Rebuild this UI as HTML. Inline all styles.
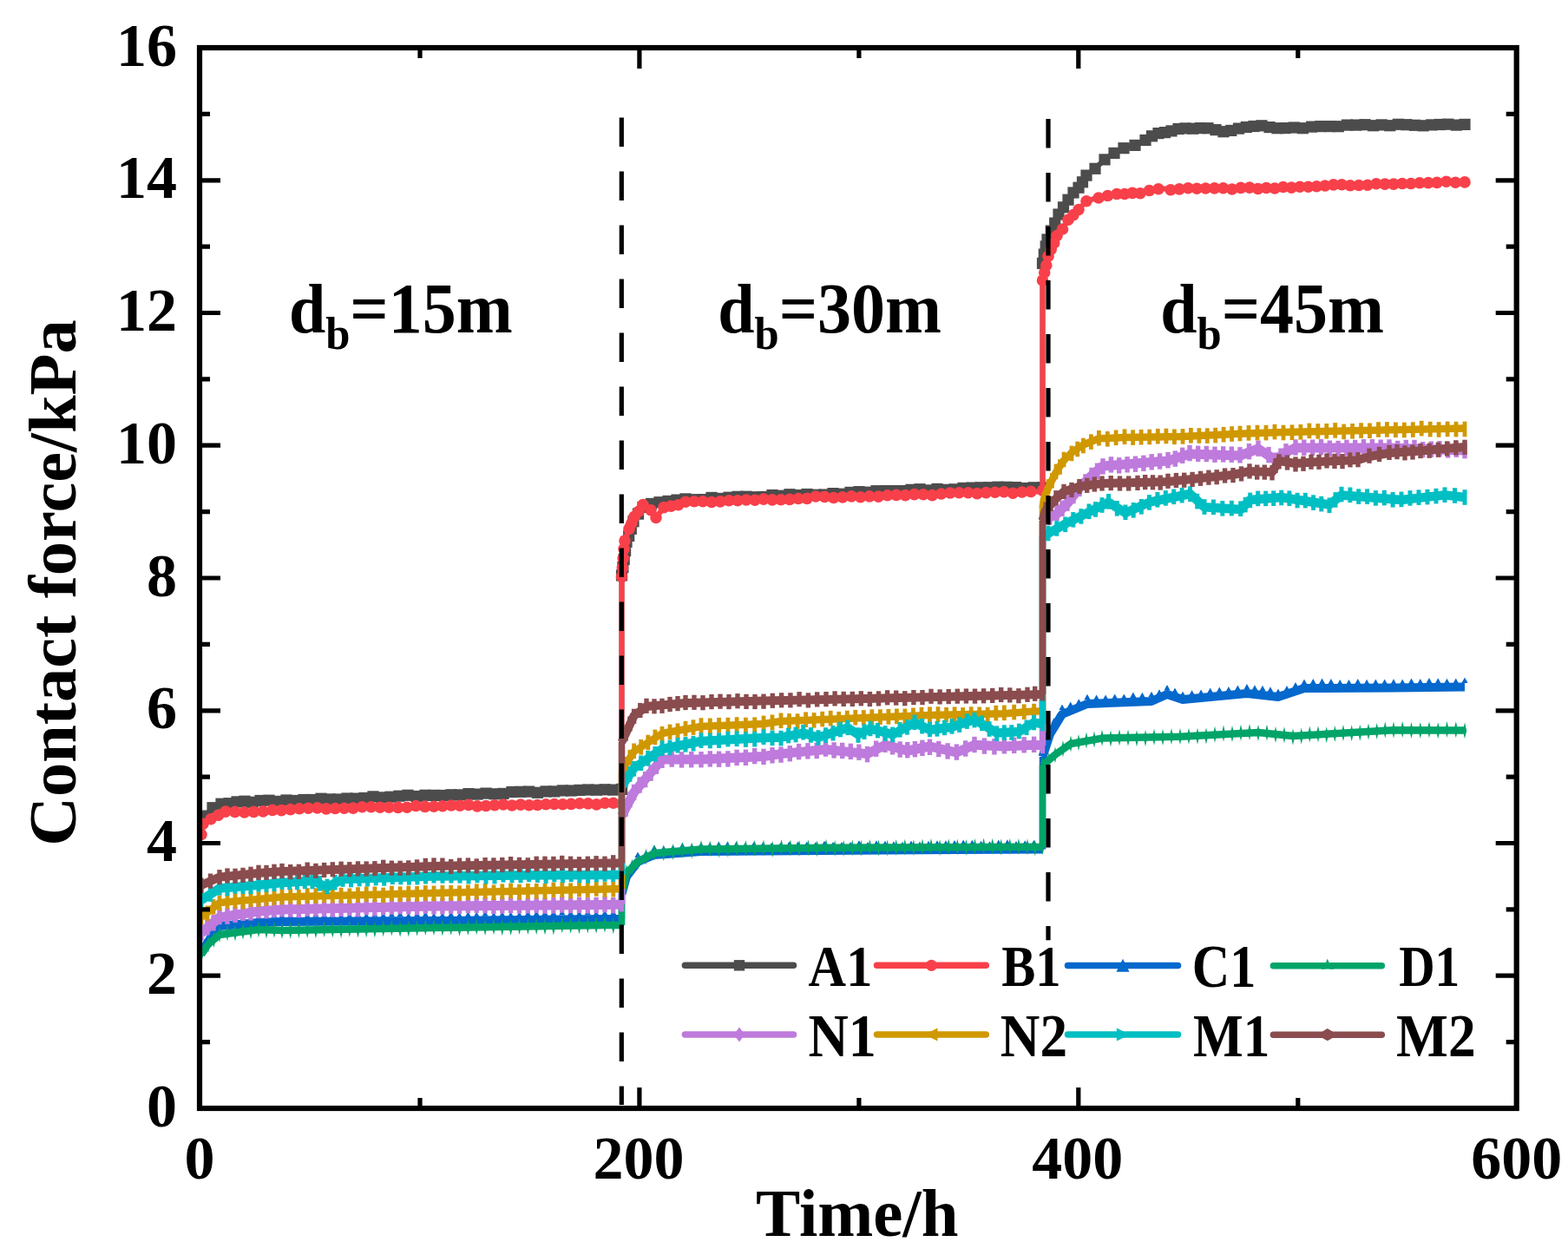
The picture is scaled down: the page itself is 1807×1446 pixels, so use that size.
<!DOCTYPE html><html><head><meta charset="utf-8"><style>html,body{margin:0;padding:0;background:#fff;overflow:hidden;width:1807px;height:1446px;}svg{display:block;}</style></head><body><svg width="1807" height="1446" viewBox="0 0 1807 1446">
<rect width="1807" height="1446" fill="#fff"/>
<defs><clipPath id="pc"><rect x="231.0" y="55.0" width="1516.7" height="1222.0"/></clipPath></defs>
<g clip-path="url(#pc)">
<g fill="#4C4C4C" stroke="none">
<polyline points="232.0,948.0 236.0,940.0 245.0,931.0 255.0,926.0 300.0,923.0 400.0,920.0 500.0,916.0 600.0,913.0 716.5,909.0" fill="none" stroke="#4C4C4C" stroke-width="6" stroke-linejoin="round"/>
<polyline points="716.5,662.0 722.0,625.0 730.0,600.0 741.0,584.0 760.0,578.0 800.0,575.0 900.0,571.0 1000.0,567.0 1100.0,563.0 1150.0,561.0 1201.5,562.0" fill="none" stroke="#4C4C4C" stroke-width="6" stroke-linejoin="round"/>
<line x1="716.5" y1="909.0" x2="716.5" y2="662.0" stroke="#4C4C4C" stroke-width="6"/>
<polyline points="1201.5,303.0 1207.0,275.0 1220.0,248.0 1231.0,230.0 1243.0,216.0 1252.0,203.0 1262.0,194.0 1273.0,184.0 1284.0,176.0 1295.0,171.0 1308.0,167.0 1320.0,161.0 1335.0,154.5 1350.0,150.0 1366.0,148.0 1392.0,148.0 1410.0,152.0 1445.0,145.0 1481.0,148.0 1573.0,144.0 1688.0,144.0" fill="none" stroke="#4C4C4C" stroke-width="6" stroke-linejoin="round"/>
<line x1="1201.5" y1="562.0" x2="1201.5" y2="303.0" stroke="#4C4C4C" stroke-width="6"/>
<rect x="225.4" y="940.9" width="13.2" height="13.2"/>
<rect x="229.4" y="933.5" width="13.2" height="13.2"/>
<rect x="238.4" y="924.1" width="13.2" height="13.2"/>
<rect x="248.4" y="919.6" width="13.2" height="13.2"/>
<rect x="257.4" y="919.1" width="13.2" height="13.2"/>
<rect x="266.4" y="917.3" width="13.2" height="13.2"/>
<rect x="275.4" y="916.6" width="13.2" height="13.2"/>
<rect x="284.4" y="917.7" width="13.2" height="13.2"/>
<rect x="293.4" y="915.9" width="13.2" height="13.2"/>
<rect x="303.4" y="915.6" width="13.2" height="13.2"/>
<rect x="313.4" y="916.8" width="13.2" height="13.2"/>
<rect x="323.4" y="915.4" width="13.2" height="13.2"/>
<rect x="333.4" y="915.9" width="13.2" height="13.2"/>
<rect x="343.4" y="914.9" width="13.2" height="13.2"/>
<rect x="353.4" y="914.9" width="13.2" height="13.2"/>
<rect x="363.4" y="913.6" width="13.2" height="13.2"/>
<rect x="373.4" y="914.3" width="13.2" height="13.2"/>
<rect x="383.4" y="914.4" width="13.2" height="13.2"/>
<rect x="393.4" y="913.4" width="13.2" height="13.2"/>
<rect x="403.4" y="913.5" width="13.2" height="13.2"/>
<rect x="413.4" y="912.9" width="13.2" height="13.2"/>
<rect x="423.4" y="911.3" width="13.2" height="13.2"/>
<rect x="433.4" y="912.3" width="13.2" height="13.2"/>
<rect x="443.4" y="911.6" width="13.2" height="13.2"/>
<rect x="453.4" y="910.6" width="13.2" height="13.2"/>
<rect x="463.4" y="909.7" width="13.2" height="13.2"/>
<rect x="473.4" y="910.9" width="13.2" height="13.2"/>
<rect x="483.4" y="909.7" width="13.2" height="13.2"/>
<rect x="493.4" y="909.8" width="13.2" height="13.2"/>
<rect x="503.4" y="909.9" width="13.2" height="13.2"/>
<rect x="513.4" y="909.2" width="13.2" height="13.2"/>
<rect x="523.4" y="909.3" width="13.2" height="13.2"/>
<rect x="533.4" y="908.0" width="13.2" height="13.2"/>
<rect x="543.4" y="908.5" width="13.2" height="13.2"/>
<rect x="553.4" y="907.5" width="13.2" height="13.2"/>
<rect x="563.4" y="908.2" width="13.2" height="13.2"/>
<rect x="573.4" y="907.8" width="13.2" height="13.2"/>
<rect x="583.4" y="905.9" width="13.2" height="13.2"/>
<rect x="593.4" y="905.7" width="13.2" height="13.2"/>
<rect x="603.1" y="905.5" width="13.2" height="13.2"/>
<rect x="612.8" y="906.7" width="13.2" height="13.2"/>
<rect x="622.5" y="905.3" width="13.2" height="13.2"/>
<rect x="632.2" y="905.3" width="13.2" height="13.2"/>
<rect x="641.9" y="904.3" width="13.2" height="13.2"/>
<rect x="651.6" y="904.4" width="13.2" height="13.2"/>
<rect x="661.4" y="903.8" width="13.2" height="13.2"/>
<rect x="671.1" y="903.4" width="13.2" height="13.2"/>
<rect x="680.8" y="903.6" width="13.2" height="13.2"/>
<rect x="690.5" y="903.2" width="13.2" height="13.2"/>
<rect x="700.2" y="903.5" width="13.2" height="13.2"/>
<rect x="709.9" y="902.8" width="13.2" height="13.2"/>
<rect x="709.9" y="656.3" width="13.2" height="13.2"/>
<rect x="711.3" y="646.9" width="13.2" height="13.2"/>
<rect x="712.6" y="637.9" width="13.2" height="13.2"/>
<rect x="714.0" y="628.0" width="13.2" height="13.2"/>
<rect x="715.4" y="617.7" width="13.2" height="13.2"/>
<rect x="718.1" y="610.8" width="13.2" height="13.2"/>
<rect x="720.7" y="602.7" width="13.2" height="13.2"/>
<rect x="723.4" y="594.2" width="13.2" height="13.2"/>
<rect x="728.9" y="585.5" width="13.2" height="13.2"/>
<rect x="734.4" y="577.8" width="13.2" height="13.2"/>
<rect x="743.9" y="573.8" width="13.2" height="13.2"/>
<rect x="753.4" y="572.1" width="13.2" height="13.2"/>
<rect x="763.4" y="570.8" width="13.2" height="13.2"/>
<rect x="773.4" y="569.5" width="13.2" height="13.2"/>
<rect x="783.4" y="568.3" width="13.2" height="13.2"/>
<rect x="793.4" y="569.1" width="13.2" height="13.2"/>
<rect x="803.4" y="569.0" width="13.2" height="13.2"/>
<rect x="813.4" y="566.8" width="13.2" height="13.2"/>
<rect x="823.4" y="567.8" width="13.2" height="13.2"/>
<rect x="833.4" y="566.6" width="13.2" height="13.2"/>
<rect x="843.4" y="565.7" width="13.2" height="13.2"/>
<rect x="853.4" y="565.6" width="13.2" height="13.2"/>
<rect x="863.4" y="566.1" width="13.2" height="13.2"/>
<rect x="873.4" y="565.9" width="13.2" height="13.2"/>
<rect x="883.4" y="563.9" width="13.2" height="13.2"/>
<rect x="893.4" y="564.6" width="13.2" height="13.2"/>
<rect x="903.4" y="563.1" width="13.2" height="13.2"/>
<rect x="913.4" y="564.0" width="13.2" height="13.2"/>
<rect x="923.4" y="562.9" width="13.2" height="13.2"/>
<rect x="933.4" y="563.6" width="13.2" height="13.2"/>
<rect x="943.4" y="563.4" width="13.2" height="13.2"/>
<rect x="953.4" y="562.0" width="13.2" height="13.2"/>
<rect x="963.4" y="562.6" width="13.2" height="13.2"/>
<rect x="973.4" y="560.8" width="13.2" height="13.2"/>
<rect x="983.4" y="560.0" width="13.2" height="13.2"/>
<rect x="993.4" y="560.6" width="13.2" height="13.2"/>
<rect x="1003.4" y="559.1" width="13.2" height="13.2"/>
<rect x="1013.4" y="559.0" width="13.2" height="13.2"/>
<rect x="1023.4" y="559.0" width="13.2" height="13.2"/>
<rect x="1033.4" y="559.0" width="13.2" height="13.2"/>
<rect x="1043.4" y="557.7" width="13.2" height="13.2"/>
<rect x="1053.4" y="557.1" width="13.2" height="13.2"/>
<rect x="1063.4" y="558.3" width="13.2" height="13.2"/>
<rect x="1073.4" y="556.8" width="13.2" height="13.2"/>
<rect x="1083.4" y="557.7" width="13.2" height="13.2"/>
<rect x="1093.4" y="557.2" width="13.2" height="13.2"/>
<rect x="1103.4" y="555.8" width="13.2" height="13.2"/>
<rect x="1113.4" y="555.5" width="13.2" height="13.2"/>
<rect x="1123.4" y="555.2" width="13.2" height="13.2"/>
<rect x="1133.4" y="555.1" width="13.2" height="13.2"/>
<rect x="1143.4" y="554.6" width="13.2" height="13.2"/>
<rect x="1153.7" y="554.7" width="13.2" height="13.2"/>
<rect x="1164.0" y="555.0" width="13.2" height="13.2"/>
<rect x="1174.3" y="555.9" width="13.2" height="13.2"/>
<rect x="1184.6" y="555.2" width="13.2" height="13.2"/>
<rect x="1194.9" y="555.3" width="13.2" height="13.2"/>
<rect x="1194.9" y="296.8" width="13.2" height="13.2"/>
<rect x="1196.7" y="286.5" width="13.2" height="13.2"/>
<rect x="1198.6" y="277.3" width="13.2" height="13.2"/>
<rect x="1200.4" y="269.4" width="13.2" height="13.2"/>
<rect x="1204.7" y="259.4" width="13.2" height="13.2"/>
<rect x="1209.1" y="250.5" width="13.2" height="13.2"/>
<rect x="1213.4" y="240.4" width="13.2" height="13.2"/>
<rect x="1218.9" y="232.2" width="13.2" height="13.2"/>
<rect x="1224.4" y="223.6" width="13.2" height="13.2"/>
<rect x="1230.4" y="215.4" width="13.2" height="13.2"/>
<rect x="1236.4" y="209.6" width="13.2" height="13.2"/>
<rect x="1240.9" y="203.2" width="13.2" height="13.2"/>
<rect x="1245.4" y="195.5" width="13.2" height="13.2"/>
<rect x="1255.4" y="187.7" width="13.2" height="13.2"/>
<rect x="1266.4" y="177.3" width="13.2" height="13.2"/>
<rect x="1277.4" y="169.8" width="13.2" height="13.2"/>
<rect x="1288.4" y="164.1" width="13.2" height="13.2"/>
<rect x="1301.4" y="160.8" width="13.2" height="13.2"/>
<rect x="1313.4" y="154.9" width="13.2" height="13.2"/>
<rect x="1320.9" y="150.2" width="13.2" height="13.2"/>
<rect x="1328.4" y="147.0" width="13.2" height="13.2"/>
<rect x="1335.9" y="146.0" width="13.2" height="13.2"/>
<rect x="1343.4" y="144.3" width="13.2" height="13.2"/>
<rect x="1351.4" y="141.9" width="13.2" height="13.2"/>
<rect x="1359.4" y="141.3" width="13.2" height="13.2"/>
<rect x="1368.1" y="141.6" width="13.2" height="13.2"/>
<rect x="1376.7" y="141.0" width="13.2" height="13.2"/>
<rect x="1385.4" y="141.1" width="13.2" height="13.2"/>
<rect x="1394.4" y="143.0" width="13.2" height="13.2"/>
<rect x="1403.4" y="145.1" width="13.2" height="13.2"/>
<rect x="1412.2" y="143.8" width="13.2" height="13.2"/>
<rect x="1420.9" y="141.5" width="13.2" height="13.2"/>
<rect x="1429.7" y="139.9" width="13.2" height="13.2"/>
<rect x="1438.4" y="138.9" width="13.2" height="13.2"/>
<rect x="1447.4" y="138.2" width="13.2" height="13.2"/>
<rect x="1456.4" y="140.0" width="13.2" height="13.2"/>
<rect x="1465.4" y="141.1" width="13.2" height="13.2"/>
<rect x="1474.4" y="141.0" width="13.2" height="13.2"/>
<rect x="1484.6" y="140.4" width="13.2" height="13.2"/>
<rect x="1494.8" y="141.1" width="13.2" height="13.2"/>
<rect x="1505.1" y="139.5" width="13.2" height="13.2"/>
<rect x="1515.3" y="139.0" width="13.2" height="13.2"/>
<rect x="1525.5" y="139.0" width="13.2" height="13.2"/>
<rect x="1535.7" y="139.1" width="13.2" height="13.2"/>
<rect x="1546.0" y="137.5" width="13.2" height="13.2"/>
<rect x="1556.2" y="137.5" width="13.2" height="13.2"/>
<rect x="1566.4" y="137.1" width="13.2" height="13.2"/>
<rect x="1576.0" y="138.1" width="13.2" height="13.2"/>
<rect x="1585.6" y="137.3" width="13.2" height="13.2"/>
<rect x="1595.2" y="138.1" width="13.2" height="13.2"/>
<rect x="1604.7" y="136.7" width="13.2" height="13.2"/>
<rect x="1614.3" y="137.1" width="13.2" height="13.2"/>
<rect x="1623.9" y="137.7" width="13.2" height="13.2"/>
<rect x="1633.5" y="138.2" width="13.2" height="13.2"/>
<rect x="1643.1" y="137.3" width="13.2" height="13.2"/>
<rect x="1652.7" y="136.9" width="13.2" height="13.2"/>
<rect x="1662.2" y="136.6" width="13.2" height="13.2"/>
<rect x="1671.8" y="137.5" width="13.2" height="13.2"/>
<rect x="1681.4" y="136.8" width="13.2" height="13.2"/>
</g>
<g fill="#F8404A" stroke="none">
<polyline points="232.0,962.0 234.0,950.0 243.0,944.0 260.0,936.0 314.0,934.0 376.0,931.0 500.0,929.0 600.0,927.0 716.5,926.0" fill="none" stroke="#F8404A" stroke-width="6" stroke-linejoin="round"/>
<polyline points="716.5,665.0 720.0,622.0 725.0,610.0 731.0,596.0 741.0,582.0 750.0,588.0 756.0,596.0 765.0,585.0 790.0,579.0 880.0,576.0 940.0,573.0 1033.0,571.0 1126.0,568.0 1188.0,567.0 1201.5,566.0" fill="none" stroke="#F8404A" stroke-width="6" stroke-linejoin="round"/>
<line x1="716.5" y1="926.0" x2="716.5" y2="665.0" stroke="#F8404A" stroke-width="6"/>
<polyline points="1201.5,324.0 1208.0,296.0 1218.0,272.0 1231.0,254.0 1243.0,241.0 1252.0,232.0 1266.0,227.0 1287.0,224.0 1314.0,223.0 1335.0,217.0 1349.0,218.0 1440.0,217.0 1556.0,213.0 1656.0,210.0 1688.0,209.0" fill="none" stroke="#F8404A" stroke-width="6" stroke-linejoin="round"/>
<line x1="1201.5" y1="566.0" x2="1201.5" y2="324.0" stroke="#F8404A" stroke-width="6"/>
<circle cx="232.0" cy="961.5" r="6.8"/>
<circle cx="234.0" cy="949.2" r="6.8"/>
<circle cx="243.0" cy="943.8" r="6.8"/>
<circle cx="251.5" cy="939.3" r="6.8"/>
<circle cx="260.0" cy="935.1" r="6.8"/>
<circle cx="270.8" cy="935.4" r="6.8"/>
<circle cx="281.6" cy="936.0" r="6.8"/>
<circle cx="292.4" cy="935.4" r="6.8"/>
<circle cx="303.2" cy="934.9" r="6.8"/>
<circle cx="314.0" cy="933.4" r="6.8"/>
<circle cx="324.3" cy="933.6" r="6.8"/>
<circle cx="334.7" cy="932.6" r="6.8"/>
<circle cx="345.0" cy="931.8" r="6.8"/>
<circle cx="355.3" cy="931.2" r="6.8"/>
<circle cx="365.7" cy="930.9" r="6.8"/>
<circle cx="376.0" cy="931.9" r="6.8"/>
<circle cx="386.3" cy="931.5" r="6.8"/>
<circle cx="396.7" cy="931.3" r="6.8"/>
<circle cx="407.0" cy="931.1" r="6.8"/>
<circle cx="417.3" cy="929.7" r="6.8"/>
<circle cx="427.7" cy="929.8" r="6.8"/>
<circle cx="438.0" cy="930.3" r="6.8"/>
<circle cx="448.3" cy="930.3" r="6.8"/>
<circle cx="458.7" cy="930.4" r="6.8"/>
<circle cx="469.0" cy="930.3" r="6.8"/>
<circle cx="479.3" cy="928.5" r="6.8"/>
<circle cx="489.7" cy="929.4" r="6.8"/>
<circle cx="500.0" cy="929.3" r="6.8"/>
<circle cx="510.0" cy="928.8" r="6.8"/>
<circle cx="520.0" cy="928.0" r="6.8"/>
<circle cx="530.0" cy="928.3" r="6.8"/>
<circle cx="540.0" cy="927.4" r="6.8"/>
<circle cx="550.0" cy="928.9" r="6.8"/>
<circle cx="560.0" cy="928.5" r="6.8"/>
<circle cx="570.0" cy="927.7" r="6.8"/>
<circle cx="580.0" cy="927.0" r="6.8"/>
<circle cx="590.0" cy="928.0" r="6.8"/>
<circle cx="600.0" cy="927.1" r="6.8"/>
<circle cx="609.7" cy="927.7" r="6.8"/>
<circle cx="619.4" cy="927.5" r="6.8"/>
<circle cx="629.1" cy="926.8" r="6.8"/>
<circle cx="638.8" cy="926.5" r="6.8"/>
<circle cx="648.5" cy="926.8" r="6.8"/>
<circle cx="658.2" cy="926.4" r="6.8"/>
<circle cx="668.0" cy="925.7" r="6.8"/>
<circle cx="677.7" cy="925.9" r="6.8"/>
<circle cx="687.4" cy="926.9" r="6.8"/>
<circle cx="697.1" cy="925.3" r="6.8"/>
<circle cx="706.8" cy="925.2" r="6.8"/>
<circle cx="716.5" cy="926.3" r="6.8"/>
<circle cx="716.5" cy="664.6" r="6.8"/>
<circle cx="717.4" cy="654.3" r="6.8"/>
<circle cx="718.2" cy="643.4" r="6.8"/>
<circle cx="719.1" cy="632.4" r="6.8"/>
<circle cx="720.0" cy="623.0" r="6.8"/>
<circle cx="725.0" cy="609.4" r="6.8"/>
<circle cx="728.0" cy="602.8" r="6.8"/>
<circle cx="731.0" cy="595.4" r="6.8"/>
<circle cx="736.0" cy="589.3" r="6.8"/>
<circle cx="741.0" cy="581.6" r="6.8"/>
<circle cx="750.0" cy="587.7" r="6.8"/>
<circle cx="756.0" cy="596.5" r="6.8"/>
<circle cx="765.0" cy="584.6" r="6.8"/>
<circle cx="773.3" cy="583.1" r="6.8"/>
<circle cx="781.7" cy="581.8" r="6.8"/>
<circle cx="790.0" cy="578.2" r="6.8"/>
<circle cx="800.0" cy="577.8" r="6.8"/>
<circle cx="810.0" cy="577.8" r="6.8"/>
<circle cx="820.0" cy="578.5" r="6.8"/>
<circle cx="830.0" cy="577.9" r="6.8"/>
<circle cx="840.0" cy="576.8" r="6.8"/>
<circle cx="850.0" cy="576.7" r="6.8"/>
<circle cx="860.0" cy="576.0" r="6.8"/>
<circle cx="870.0" cy="576.3" r="6.8"/>
<circle cx="880.0" cy="575.1" r="6.8"/>
<circle cx="890.0" cy="575.9" r="6.8"/>
<circle cx="900.0" cy="575.8" r="6.8"/>
<circle cx="910.0" cy="575.4" r="6.8"/>
<circle cx="920.0" cy="574.5" r="6.8"/>
<circle cx="930.0" cy="574.4" r="6.8"/>
<circle cx="940.0" cy="572.0" r="6.8"/>
<circle cx="950.3" cy="572.4" r="6.8"/>
<circle cx="960.7" cy="573.5" r="6.8"/>
<circle cx="971.0" cy="572.9" r="6.8"/>
<circle cx="981.3" cy="571.9" r="6.8"/>
<circle cx="991.7" cy="572.8" r="6.8"/>
<circle cx="1002.0" cy="571.9" r="6.8"/>
<circle cx="1012.3" cy="572.1" r="6.8"/>
<circle cx="1022.7" cy="570.8" r="6.8"/>
<circle cx="1033.0" cy="570.4" r="6.8"/>
<circle cx="1043.3" cy="570.6" r="6.8"/>
<circle cx="1053.7" cy="569.6" r="6.8"/>
<circle cx="1064.0" cy="569.8" r="6.8"/>
<circle cx="1074.3" cy="570.6" r="6.8"/>
<circle cx="1084.7" cy="569.0" r="6.8"/>
<circle cx="1095.0" cy="568.0" r="6.8"/>
<circle cx="1105.3" cy="567.8" r="6.8"/>
<circle cx="1115.7" cy="567.7" r="6.8"/>
<circle cx="1126.0" cy="568.6" r="6.8"/>
<circle cx="1136.3" cy="567.6" r="6.8"/>
<circle cx="1146.7" cy="567.2" r="6.8"/>
<circle cx="1157.0" cy="566.7" r="6.8"/>
<circle cx="1167.3" cy="568.3" r="6.8"/>
<circle cx="1177.7" cy="567.0" r="6.8"/>
<circle cx="1188.0" cy="566.4" r="6.8"/>
<circle cx="1201.5" cy="565.1" r="6.8"/>
<circle cx="1201.5" cy="323.1" r="6.8"/>
<circle cx="1203.7" cy="314.0" r="6.8"/>
<circle cx="1205.8" cy="305.7" r="6.8"/>
<circle cx="1208.0" cy="295.3" r="6.8"/>
<circle cx="1211.3" cy="287.1" r="6.8"/>
<circle cx="1214.7" cy="280.0" r="6.8"/>
<circle cx="1218.0" cy="271.5" r="6.8"/>
<circle cx="1224.5" cy="264.0" r="6.8"/>
<circle cx="1231.0" cy="253.2" r="6.8"/>
<circle cx="1237.0" cy="247.6" r="6.8"/>
<circle cx="1243.0" cy="241.5" r="6.8"/>
<circle cx="1252.0" cy="231.8" r="6.8"/>
<circle cx="1266.0" cy="228.0" r="6.8"/>
<circle cx="1276.5" cy="225.5" r="6.8"/>
<circle cx="1287.0" cy="223.5" r="6.8"/>
<circle cx="1296.0" cy="223.5" r="6.8"/>
<circle cx="1305.0" cy="222.4" r="6.8"/>
<circle cx="1314.0" cy="222.8" r="6.8"/>
<circle cx="1324.5" cy="219.5" r="6.8"/>
<circle cx="1335.0" cy="217.8" r="6.8"/>
<circle cx="1349.0" cy="218.7" r="6.8"/>
<circle cx="1359.1" cy="217.9" r="6.8"/>
<circle cx="1369.2" cy="216.8" r="6.8"/>
<circle cx="1379.3" cy="217.2" r="6.8"/>
<circle cx="1389.4" cy="217.0" r="6.8"/>
<circle cx="1399.6" cy="216.9" r="6.8"/>
<circle cx="1409.7" cy="216.8" r="6.8"/>
<circle cx="1419.8" cy="218.0" r="6.8"/>
<circle cx="1429.9" cy="216.4" r="6.8"/>
<circle cx="1440.0" cy="216.1" r="6.8"/>
<circle cx="1449.7" cy="217.5" r="6.8"/>
<circle cx="1459.3" cy="216.5" r="6.8"/>
<circle cx="1469.0" cy="217.0" r="6.8"/>
<circle cx="1478.7" cy="215.5" r="6.8"/>
<circle cx="1488.3" cy="216.1" r="6.8"/>
<circle cx="1498.0" cy="215.3" r="6.8"/>
<circle cx="1507.7" cy="215.2" r="6.8"/>
<circle cx="1517.3" cy="214.8" r="6.8"/>
<circle cx="1527.0" cy="214.0" r="6.8"/>
<circle cx="1536.7" cy="212.9" r="6.8"/>
<circle cx="1546.3" cy="212.8" r="6.8"/>
<circle cx="1556.0" cy="213.7" r="6.8"/>
<circle cx="1566.0" cy="213.5" r="6.8"/>
<circle cx="1576.0" cy="213.2" r="6.8"/>
<circle cx="1586.0" cy="211.8" r="6.8"/>
<circle cx="1596.0" cy="212.1" r="6.8"/>
<circle cx="1606.0" cy="212.1" r="6.8"/>
<circle cx="1616.0" cy="211.5" r="6.8"/>
<circle cx="1626.0" cy="211.5" r="6.8"/>
<circle cx="1636.0" cy="210.7" r="6.8"/>
<circle cx="1646.0" cy="210.6" r="6.8"/>
<circle cx="1656.0" cy="210.4" r="6.8"/>
<circle cx="1666.7" cy="209.2" r="6.8"/>
<circle cx="1677.3" cy="210.2" r="6.8"/>
<circle cx="1688.0" cy="209.9" r="6.8"/>
</g>
<g fill="#0568CC" stroke="none">
<polyline points="232.0,1098.0 240.0,1085.0 253.0,1067.0 298.0,1063.0 325.0,1062.0 500.0,1061.0 697.0,1059.0 716.5,1059.0" fill="none" stroke="#0568CC" stroke-width="10" stroke-linejoin="round"/>
<polyline points="716.5,1030.0 722.0,1010.0 735.0,993.0 754.0,985.0 808.0,981.0 950.0,980.0 1100.0,979.0 1201.5,978.5" fill="none" stroke="#0568CC" stroke-width="10" stroke-linejoin="round"/>
<line x1="716.5" y1="1059.0" x2="716.5" y2="1030.0" stroke="#0568CC" stroke-width="7.5"/>
<polyline points="1201.5,872.0 1210.0,846.0 1224.0,823.0 1253.0,811.0 1327.0,808.0 1345.0,800.0 1363.0,806.0 1437.0,799.0 1473.0,803.0 1503.0,793.0 1606.0,792.5 1688.0,791.5" fill="none" stroke="#0568CC" stroke-width="10" stroke-linejoin="round"/>
<line x1="1201.5" y1="978.5" x2="1201.5" y2="872.0" stroke="#0568CC" stroke-width="7.5"/>
<polygon points="232.0,1087.7 235.6,1094.2 228.4,1094.2"/>
<polygon points="236.0,1081.5 239.6,1088.0 232.4,1088.0"/>
<polygon points="240.0,1075.1 243.6,1081.6 236.4,1081.6"/>
<polygon points="246.5,1066.4 250.1,1072.9 242.9,1072.9"/>
<polygon points="253.0,1057.0 256.6,1063.5 249.4,1063.5"/>
<polygon points="262.0,1056.5 265.6,1063.0 258.4,1063.0"/>
<polygon points="271.0,1054.0 274.6,1060.5 267.4,1060.5"/>
<polygon points="280.0,1054.0 283.6,1060.5 276.4,1060.5"/>
<polygon points="289.0,1054.2 292.6,1060.7 285.4,1060.7"/>
<polygon points="298.0,1052.8 301.6,1059.3 294.4,1059.3"/>
<polygon points="307.0,1053.0 310.6,1059.5 303.4,1059.5"/>
<polygon points="316.0,1051.1 319.6,1057.6 312.4,1057.6"/>
<polygon points="325.0,1051.4 328.6,1057.9 321.4,1057.9"/>
<polygon points="334.7,1050.9 338.3,1057.4 331.1,1057.4"/>
<polygon points="344.4,1051.5 348.0,1058.0 340.8,1058.0"/>
<polygon points="354.2,1051.5 357.8,1058.0 350.6,1058.0"/>
<polygon points="363.9,1050.3 367.5,1056.8 360.3,1056.8"/>
<polygon points="373.6,1050.7 377.2,1057.2 370.0,1057.2"/>
<polygon points="383.3,1050.7 386.9,1057.2 379.7,1057.2"/>
<polygon points="393.1,1051.9 396.7,1058.4 389.5,1058.4"/>
<polygon points="402.8,1051.6 406.4,1058.1 399.2,1058.1"/>
<polygon points="412.5,1050.3 416.1,1056.8 408.9,1056.8"/>
<polygon points="422.2,1051.5 425.8,1058.0 418.6,1058.0"/>
<polygon points="431.9,1050.2 435.5,1056.7 428.3,1056.7"/>
<polygon points="441.7,1051.1 445.3,1057.6 438.1,1057.6"/>
<polygon points="451.4,1050.0 455.0,1056.5 447.8,1056.5"/>
<polygon points="461.1,1049.7 464.7,1056.2 457.5,1056.2"/>
<polygon points="470.8,1051.4 474.4,1057.9 467.2,1057.9"/>
<polygon points="480.6,1050.0 484.2,1056.5 477.0,1056.5"/>
<polygon points="490.3,1050.0 493.9,1056.5 486.7,1056.5"/>
<polygon points="500.0,1051.5 503.6,1058.0 496.4,1058.0"/>
<polygon points="509.9,1051.1 513.5,1057.6 506.2,1057.6"/>
<polygon points="519.7,1049.9 523.3,1056.4 516.1,1056.4"/>
<polygon points="529.5,1051.1 533.1,1057.6 525.9,1057.6"/>
<polygon points="539.4,1050.2 543.0,1056.7 535.8,1056.7"/>
<polygon points="549.2,1050.4 552.9,1056.9 545.6,1056.9"/>
<polygon points="559.1,1049.3 562.7,1055.8 555.5,1055.8"/>
<polygon points="569.0,1050.7 572.6,1057.2 565.4,1057.2"/>
<polygon points="578.8,1050.1 582.4,1056.6 575.2,1056.6"/>
<polygon points="588.6,1050.5 592.2,1057.0 585.0,1057.0"/>
<polygon points="598.5,1050.3 602.1,1056.8 594.9,1056.8"/>
<polygon points="608.4,1049.0 612.0,1055.5 604.8,1055.5"/>
<polygon points="618.2,1049.0 621.8,1055.5 614.6,1055.5"/>
<polygon points="628.0,1048.5 631.6,1055.0 624.4,1055.0"/>
<polygon points="637.9,1048.4 641.5,1054.9 634.3,1054.9"/>
<polygon points="647.8,1048.1 651.4,1054.6 644.1,1054.6"/>
<polygon points="657.6,1048.5 661.2,1055.0 654.0,1055.0"/>
<polygon points="667.5,1049.0 671.1,1055.5 663.9,1055.5"/>
<polygon points="677.3,1047.7 680.9,1054.2 673.7,1054.2"/>
<polygon points="687.1,1049.0 690.8,1055.5 683.5,1055.5"/>
<polygon points="697.0,1048.2 700.6,1054.7 693.4,1054.7"/>
<polygon points="706.8,1048.1 710.4,1054.6 703.1,1054.6"/>
<polygon points="716.5,1049.1 720.1,1055.6 712.9,1055.6"/>
<polygon points="716.5,1019.5 720.1,1026.0 712.9,1026.0"/>
<polygon points="719.2,1009.1 722.9,1015.6 715.6,1015.6"/>
<polygon points="722.0,999.5 725.6,1006.0 718.4,1006.0"/>
<polygon points="728.5,991.4 732.1,997.9 724.9,997.9"/>
<polygon points="735.0,981.6 738.6,988.1 731.4,988.1"/>
<polygon points="744.5,979.5 748.1,986.0 740.9,986.0"/>
<polygon points="754.0,973.5 757.6,980.0 750.4,980.0"/>
<polygon points="764.8,974.2 768.4,980.7 761.2,980.7"/>
<polygon points="775.6,973.6 779.2,980.1 772.0,980.1"/>
<polygon points="786.4,971.1 790.0,977.6 782.8,977.6"/>
<polygon points="797.2,971.9 800.8,978.4 793.6,978.4"/>
<polygon points="808.0,970.2 811.6,976.7 804.4,976.7"/>
<polygon points="818.1,970.6 821.7,977.1 814.5,977.1"/>
<polygon points="828.3,969.4 831.9,975.9 824.7,975.9"/>
<polygon points="838.4,969.4 842.0,975.9 834.8,975.9"/>
<polygon points="848.6,969.6 852.2,976.1 845.0,976.1"/>
<polygon points="858.7,971.1 862.3,977.6 855.1,977.6"/>
<polygon points="868.9,969.5 872.5,976.0 865.3,976.0"/>
<polygon points="879.0,970.5 882.6,977.0 875.4,977.0"/>
<polygon points="889.1,970.8 892.7,977.3 885.5,977.3"/>
<polygon points="899.3,970.7 902.9,977.2 895.7,977.2"/>
<polygon points="909.4,969.5 913.0,976.0 905.8,976.0"/>
<polygon points="919.6,969.4 923.2,975.9 916.0,975.9"/>
<polygon points="929.7,969.7 933.3,976.2 926.1,976.2"/>
<polygon points="939.9,970.1 943.5,976.6 936.3,976.6"/>
<polygon points="950.0,968.7 953.6,975.2 946.4,975.2"/>
<polygon points="960.0,969.9 963.6,976.4 956.4,976.4"/>
<polygon points="970.0,970.0 973.6,976.5 966.4,976.5"/>
<polygon points="980.0,970.0 983.6,976.5 976.4,976.5"/>
<polygon points="990.0,968.3 993.6,974.8 986.4,974.8"/>
<polygon points="1000.0,970.1 1003.6,976.6 996.4,976.6"/>
<polygon points="1010.0,968.3 1013.6,974.8 1006.4,974.8"/>
<polygon points="1020.0,968.7 1023.6,975.2 1016.4,975.2"/>
<polygon points="1030.0,969.2 1033.6,975.7 1026.4,975.7"/>
<polygon points="1040.0,969.7 1043.6,976.2 1036.4,976.2"/>
<polygon points="1050.0,968.5 1053.6,975.0 1046.4,975.0"/>
<polygon points="1060.0,969.6 1063.6,976.1 1056.4,976.1"/>
<polygon points="1070.0,968.8 1073.6,975.3 1066.4,975.3"/>
<polygon points="1080.0,968.3 1083.6,974.8 1076.4,974.8"/>
<polygon points="1090.0,968.2 1093.6,974.7 1086.4,974.7"/>
<polygon points="1100.0,967.9 1103.6,974.4 1096.4,974.4"/>
<polygon points="1110.2,967.6 1113.8,974.1 1106.6,974.1"/>
<polygon points="1120.3,967.7 1123.9,974.2 1116.7,974.2"/>
<polygon points="1130.5,968.7 1134.0,975.2 1126.9,975.2"/>
<polygon points="1140.6,969.3 1144.2,975.8 1137.0,975.8"/>
<polygon points="1150.8,967.6 1154.3,974.1 1147.2,974.1"/>
<polygon points="1160.9,967.3 1164.5,973.8 1157.3,973.8"/>
<polygon points="1171.0,969.1 1174.6,975.6 1167.5,975.6"/>
<polygon points="1181.2,968.2 1184.8,974.7 1177.6,974.7"/>
<polygon points="1191.3,967.9 1194.9,974.4 1187.8,974.4"/>
<polygon points="1201.5,967.5 1205.1,974.0 1197.9,974.0"/>
<polygon points="1201.5,861.7 1205.1,868.2 1197.9,868.2"/>
<polygon points="1204.3,853.5 1207.9,860.0 1200.7,860.0"/>
<polygon points="1207.2,844.1 1210.8,850.6 1203.6,850.6"/>
<polygon points="1210.0,835.3 1213.6,841.8 1206.4,841.8"/>
<polygon points="1214.7,826.9 1218.3,833.4 1211.1,833.4"/>
<polygon points="1219.3,821.0 1222.9,827.5 1215.7,827.5"/>
<polygon points="1224.0,811.6 1227.6,818.1 1220.4,818.1"/>
<polygon points="1233.7,808.5 1237.3,815.0 1230.1,815.0"/>
<polygon points="1243.3,805.2 1246.9,811.7 1239.7,811.7"/>
<polygon points="1253.0,799.8 1256.6,806.3 1249.4,806.3"/>
<polygon points="1263.6,800.5 1267.2,807.0 1260.0,807.0"/>
<polygon points="1274.1,800.5 1277.7,807.0 1270.5,807.0"/>
<polygon points="1284.7,799.5 1288.3,806.0 1281.1,806.0"/>
<polygon points="1295.3,799.4 1298.9,805.9 1291.7,805.9"/>
<polygon points="1305.9,797.6 1309.5,804.1 1302.3,804.1"/>
<polygon points="1316.4,797.8 1320.0,804.3 1312.8,804.3"/>
<polygon points="1327.0,796.8 1330.6,803.3 1323.4,803.3"/>
<polygon points="1336.0,794.2 1339.6,800.7 1332.4,800.7"/>
<polygon points="1345.0,789.1 1348.6,795.6 1341.4,795.6"/>
<polygon points="1354.0,792.4 1357.6,798.9 1350.4,798.9"/>
<polygon points="1363.0,796.5 1366.6,803.0 1359.4,803.0"/>
<polygon points="1373.6,795.2 1377.2,801.7 1370.0,801.7"/>
<polygon points="1384.1,794.5 1387.7,801.0 1380.5,801.0"/>
<polygon points="1394.7,792.4 1398.3,798.9 1391.1,798.9"/>
<polygon points="1405.3,791.5 1408.9,798.0 1401.7,798.0"/>
<polygon points="1415.9,791.0 1419.5,797.5 1412.3,797.5"/>
<polygon points="1426.4,789.5 1430.0,796.0 1422.8,796.0"/>
<polygon points="1437.0,788.1 1440.6,794.6 1433.4,794.6"/>
<polygon points="1446.0,789.3 1449.6,795.8 1442.4,795.8"/>
<polygon points="1455.0,789.8 1458.6,796.3 1451.4,796.3"/>
<polygon points="1464.0,791.3 1467.6,797.8 1460.4,797.8"/>
<polygon points="1473.0,793.5 1476.6,800.0 1469.4,800.0"/>
<polygon points="1483.0,790.1 1486.6,796.6 1479.4,796.6"/>
<polygon points="1493.0,786.1 1496.6,792.6 1489.4,792.6"/>
<polygon points="1503.0,782.5 1506.6,789.0 1499.4,789.0"/>
<polygon points="1513.3,782.1 1516.9,788.6 1509.7,788.6"/>
<polygon points="1523.6,781.6 1527.2,788.1 1520.0,788.1"/>
<polygon points="1533.9,781.9 1537.5,788.4 1530.3,788.4"/>
<polygon points="1544.2,782.9 1547.8,789.4 1540.6,789.4"/>
<polygon points="1554.5,783.0 1558.1,789.5 1550.9,789.5"/>
<polygon points="1564.8,781.9 1568.4,788.4 1561.2,788.4"/>
<polygon points="1575.1,782.7 1578.7,789.2 1571.5,789.2"/>
<polygon points="1585.4,782.6 1589.0,789.1 1581.8,789.1"/>
<polygon points="1595.7,782.4 1599.3,788.9 1592.1,788.9"/>
<polygon points="1606.0,782.3 1609.6,788.8 1602.4,788.8"/>
<polygon points="1616.2,782.4 1619.8,788.9 1612.7,788.9"/>
<polygon points="1626.5,781.5 1630.1,788.0 1622.9,788.0"/>
<polygon points="1636.8,782.0 1640.3,788.5 1633.2,788.5"/>
<polygon points="1647.0,781.1 1650.6,787.6 1643.4,787.6"/>
<polygon points="1657.2,781.3 1660.8,787.8 1653.7,787.8"/>
<polygon points="1667.5,781.8 1671.1,788.3 1663.9,788.3"/>
<polygon points="1677.8,781.5 1681.3,788.0 1674.2,788.0"/>
<polygon points="1688.0,780.6 1691.6,787.1 1684.4,787.1"/>
</g>
<g fill="#00A469" stroke="none">
<polyline points="232.0,1100.0 240.0,1088.0 253.0,1077.0 298.0,1071.0 325.0,1072.0 500.0,1069.0 697.0,1066.0 716.5,1066.0" fill="none" stroke="#00A469" stroke-width="8.5" stroke-linejoin="round"/>
<polyline points="716.5,1030.0 722.0,1006.0 735.0,993.0 754.0,983.0 808.0,978.5 952.0,976.7 1184.0,975.8 1201.5,976.0" fill="none" stroke="#00A469" stroke-width="8.5" stroke-linejoin="round"/>
<line x1="716.5" y1="1066.0" x2="716.5" y2="1030.0" stroke="#00A469" stroke-width="7.5"/>
<polyline points="1201.5,882.0 1216.0,869.5 1234.0,857.0 1270.0,850.6 1360.0,848.8 1450.0,844.0 1490.0,848.0 1606.0,841.3 1688.0,841.5" fill="none" stroke="#00A469" stroke-width="8.5" stroke-linejoin="round"/>
<line x1="1201.5" y1="976.0" x2="1201.5" y2="882.0" stroke="#00A469" stroke-width="7.5"/>
<polygon points="232.0,1091.1 234.2,1100.6 232.0,1110.1 229.8,1100.6"/>
<polygon points="240.0,1079.1 242.2,1088.6 240.0,1098.1 237.8,1088.6"/>
<polygon points="246.5,1073.0 248.7,1082.5 246.5,1092.0 244.3,1082.5"/>
<polygon points="253.0,1067.0 255.2,1076.5 253.0,1086.0 250.8,1076.5"/>
<polygon points="262.0,1065.3 264.2,1074.8 262.0,1084.3 259.8,1074.8"/>
<polygon points="271.0,1065.4 273.2,1074.9 271.0,1084.4 268.8,1074.9"/>
<polygon points="280.0,1063.8 282.2,1073.3 280.0,1082.8 277.8,1073.3"/>
<polygon points="289.0,1063.2 291.2,1072.7 289.0,1082.2 286.8,1072.7"/>
<polygon points="298.0,1061.2 300.2,1070.7 298.0,1080.2 295.8,1070.7"/>
<polygon points="307.0,1062.4 309.2,1071.9 307.0,1081.4 304.8,1071.9"/>
<polygon points="316.0,1061.7 318.2,1071.2 316.0,1080.7 313.8,1071.2"/>
<polygon points="325.0,1063.1 327.2,1072.6 325.0,1082.1 322.8,1072.6"/>
<polygon points="334.7,1062.8 336.9,1072.3 334.7,1081.8 332.5,1072.3"/>
<polygon points="344.4,1062.0 346.6,1071.5 344.4,1081.0 342.2,1071.5"/>
<polygon points="354.2,1062.1 356.4,1071.6 354.2,1081.1 352.0,1071.6"/>
<polygon points="363.9,1062.2 366.1,1071.7 363.9,1081.2 361.7,1071.7"/>
<polygon points="373.6,1061.1 375.8,1070.6 373.6,1080.1 371.4,1070.6"/>
<polygon points="383.3,1061.6 385.5,1071.1 383.3,1080.6 381.1,1071.1"/>
<polygon points="393.1,1061.9 395.3,1071.4 393.1,1080.9 390.9,1071.4"/>
<polygon points="402.8,1060.7 405.0,1070.2 402.8,1079.7 400.6,1070.2"/>
<polygon points="412.5,1061.6 414.7,1071.1 412.5,1080.6 410.3,1071.1"/>
<polygon points="422.2,1061.2 424.4,1070.7 422.2,1080.2 420.0,1070.7"/>
<polygon points="431.9,1061.4 434.1,1070.9 431.9,1080.4 429.7,1070.9"/>
<polygon points="441.7,1060.2 443.9,1069.7 441.7,1079.2 439.5,1069.7"/>
<polygon points="451.4,1059.5 453.6,1069.0 451.4,1078.5 449.2,1069.0"/>
<polygon points="461.1,1060.8 463.3,1070.3 461.1,1079.8 458.9,1070.3"/>
<polygon points="470.8,1060.6 473.0,1070.1 470.8,1079.6 468.6,1070.1"/>
<polygon points="480.6,1059.7 482.8,1069.2 480.6,1078.7 478.4,1069.2"/>
<polygon points="490.3,1058.9 492.5,1068.4 490.3,1077.9 488.1,1068.4"/>
<polygon points="500.0,1058.9 502.2,1068.4 500.0,1077.9 497.8,1068.4"/>
<polygon points="509.9,1059.6 512.1,1069.1 509.9,1078.6 507.7,1069.1"/>
<polygon points="519.7,1058.8 521.9,1068.3 519.7,1077.8 517.5,1068.3"/>
<polygon points="529.5,1060.0 531.8,1069.5 529.5,1079.0 527.3,1069.5"/>
<polygon points="539.4,1059.1 541.6,1068.6 539.4,1078.1 537.2,1068.6"/>
<polygon points="549.2,1058.2 551.5,1067.7 549.2,1077.2 547.0,1067.7"/>
<polygon points="559.1,1058.9 561.3,1068.4 559.1,1077.9 556.9,1068.4"/>
<polygon points="569.0,1058.2 571.2,1067.7 569.0,1077.2 566.8,1067.7"/>
<polygon points="578.8,1059.2 581.0,1068.7 578.8,1078.2 576.6,1068.7"/>
<polygon points="588.6,1059.0 590.9,1068.5 588.6,1078.0 586.4,1068.5"/>
<polygon points="598.5,1058.0 600.7,1067.5 598.5,1077.0 596.3,1067.5"/>
<polygon points="608.4,1058.1 610.6,1067.6 608.4,1077.1 606.1,1067.6"/>
<polygon points="618.2,1058.1 620.4,1067.6 618.2,1077.1 616.0,1067.6"/>
<polygon points="628.0,1058.2 630.2,1067.7 628.0,1077.2 625.8,1067.7"/>
<polygon points="637.9,1058.4 640.1,1067.9 637.9,1077.4 635.7,1067.9"/>
<polygon points="647.8,1056.3 650.0,1065.8 647.8,1075.3 645.5,1065.8"/>
<polygon points="657.6,1056.8 659.8,1066.3 657.6,1075.8 655.4,1066.3"/>
<polygon points="667.5,1057.2 669.7,1066.7 667.5,1076.2 665.2,1066.7"/>
<polygon points="677.3,1056.4 679.5,1065.9 677.3,1075.4 675.1,1065.9"/>
<polygon points="687.1,1056.8 689.4,1066.3 687.1,1075.8 684.9,1066.3"/>
<polygon points="697.0,1055.7 699.2,1065.2 697.0,1074.7 694.8,1065.2"/>
<polygon points="706.8,1057.3 709.0,1066.8 706.8,1076.3 704.5,1066.8"/>
<polygon points="716.5,1056.6 718.7,1066.1 716.5,1075.6 714.3,1066.1"/>
<polygon points="716.5,1019.7 718.7,1029.2 716.5,1038.7 714.3,1029.2"/>
<polygon points="719.2,1008.8 721.5,1018.3 719.2,1027.8 717.0,1018.3"/>
<polygon points="722.0,996.1 724.2,1005.6 722.0,1015.1 719.8,1005.6"/>
<polygon points="728.5,989.4 730.7,998.9 728.5,1008.4 726.3,998.9"/>
<polygon points="735.0,983.5 737.2,993.0 735.0,1002.5 732.8,993.0"/>
<polygon points="744.5,977.8 746.7,987.3 744.5,996.8 742.3,987.3"/>
<polygon points="754.0,972.9 756.2,982.4 754.0,991.9 751.8,982.4"/>
<polygon points="764.8,973.3 767.0,982.8 764.8,992.3 762.6,982.8"/>
<polygon points="775.6,972.1 777.8,981.6 775.6,991.1 773.4,981.6"/>
<polygon points="786.4,969.8 788.6,979.3 786.4,988.8 784.2,979.3"/>
<polygon points="797.2,970.5 799.4,980.0 797.2,989.5 795.0,980.0"/>
<polygon points="808.0,968.0 810.2,977.5 808.0,987.0 805.8,977.5"/>
<polygon points="818.3,968.5 820.5,978.0 818.3,987.5 816.1,978.0"/>
<polygon points="828.6,969.6 830.8,979.1 828.6,988.6 826.4,979.1"/>
<polygon points="838.9,968.9 841.1,978.4 838.9,987.9 836.7,978.4"/>
<polygon points="849.1,968.1 851.3,977.6 849.1,987.1 846.9,977.6"/>
<polygon points="859.4,968.1 861.6,977.6 859.4,987.1 857.2,977.6"/>
<polygon points="869.7,968.0 871.9,977.5 869.7,987.0 867.5,977.5"/>
<polygon points="880.0,967.4 882.2,976.9 880.0,986.4 877.8,976.9"/>
<polygon points="890.3,969.0 892.5,978.5 890.3,988.0 888.1,978.5"/>
<polygon points="900.6,967.0 902.8,976.5 900.6,986.0 898.4,976.5"/>
<polygon points="910.9,967.6 913.1,977.1 910.9,986.6 908.7,977.1"/>
<polygon points="921.1,968.1 923.3,977.6 921.1,987.1 918.9,977.6"/>
<polygon points="931.4,967.3 933.6,976.8 931.4,986.3 929.2,976.8"/>
<polygon points="941.7,968.3 943.9,977.8 941.7,987.3 939.5,977.8"/>
<polygon points="952.0,966.7 954.2,976.2 952.0,985.7 949.8,976.2"/>
<polygon points="962.1,968.1 964.3,977.6 962.1,987.1 959.9,977.6"/>
<polygon points="972.2,967.9 974.4,977.4 972.2,986.9 970.0,977.4"/>
<polygon points="982.3,967.4 984.5,976.9 982.3,986.4 980.1,976.9"/>
<polygon points="992.3,967.8 994.5,977.3 992.3,986.8 990.1,977.3"/>
<polygon points="1002.4,966.9 1004.6,976.4 1002.4,985.9 1000.2,976.4"/>
<polygon points="1012.5,967.6 1014.7,977.1 1012.5,986.6 1010.3,977.1"/>
<polygon points="1022.6,967.5 1024.8,977.0 1022.6,986.5 1020.4,977.0"/>
<polygon points="1032.7,966.9 1034.9,976.4 1032.7,985.9 1030.5,976.4"/>
<polygon points="1042.8,966.8 1045.0,976.3 1042.8,985.8 1040.6,976.3"/>
<polygon points="1052.9,967.2 1055.1,976.7 1052.9,986.2 1050.7,976.7"/>
<polygon points="1063.0,966.6 1065.2,976.1 1063.0,985.6 1060.8,976.1"/>
<polygon points="1073.0,965.9 1075.2,975.4 1073.0,984.9 1070.8,975.4"/>
<polygon points="1083.1,967.2 1085.3,976.7 1083.1,986.2 1080.9,976.7"/>
<polygon points="1093.2,966.2 1095.4,975.7 1093.2,985.2 1091.0,975.7"/>
<polygon points="1103.3,966.6 1105.5,976.1 1103.3,985.6 1101.1,976.1"/>
<polygon points="1113.4,967.1 1115.6,976.6 1113.4,986.1 1111.2,976.6"/>
<polygon points="1123.5,965.9 1125.7,975.4 1123.5,984.9 1121.3,975.4"/>
<polygon points="1133.6,965.5 1135.8,975.0 1133.6,984.5 1131.4,975.0"/>
<polygon points="1143.7,965.7 1145.9,975.2 1143.7,984.7 1141.5,975.2"/>
<polygon points="1153.7,966.6 1155.9,976.1 1153.7,985.6 1151.5,976.1"/>
<polygon points="1163.8,966.1 1166.0,975.6 1163.8,985.1 1161.6,975.6"/>
<polygon points="1173.9,965.9 1176.1,975.4 1173.9,984.9 1171.7,975.4"/>
<polygon points="1184.0,966.2 1186.2,975.7 1184.0,985.2 1181.8,975.7"/>
<polygon points="1192.8,967.3 1195.0,976.8 1192.8,986.3 1190.5,976.8"/>
<polygon points="1201.5,966.0 1203.7,975.5 1201.5,985.0 1199.3,975.5"/>
<polygon points="1201.5,872.3 1203.7,881.8 1201.5,891.3 1199.3,881.8"/>
<polygon points="1208.8,867.0 1211.0,876.5 1208.8,886.0 1206.5,876.5"/>
<polygon points="1216.0,860.2 1218.2,869.7 1216.0,879.2 1213.8,869.7"/>
<polygon points="1225.0,853.3 1227.2,862.8 1225.0,872.3 1222.8,862.8"/>
<polygon points="1234.0,847.4 1236.2,856.9 1234.0,866.4 1231.8,856.9"/>
<polygon points="1243.0,845.9 1245.2,855.4 1243.0,864.9 1240.8,855.4"/>
<polygon points="1252.0,843.6 1254.2,853.1 1252.0,862.6 1249.8,853.1"/>
<polygon points="1261.0,842.5 1263.2,852.0 1261.0,861.5 1258.8,852.0"/>
<polygon points="1270.0,840.7 1272.2,850.2 1270.0,859.7 1267.8,850.2"/>
<polygon points="1280.0,841.5 1282.2,851.0 1280.0,860.5 1277.8,851.0"/>
<polygon points="1290.0,840.3 1292.2,849.8 1290.0,859.3 1287.8,849.8"/>
<polygon points="1300.0,840.8 1302.2,850.3 1300.0,859.8 1297.8,850.3"/>
<polygon points="1310.0,841.2 1312.2,850.7 1310.0,860.2 1307.8,850.7"/>
<polygon points="1320.0,840.9 1322.2,850.4 1320.0,859.9 1317.8,850.4"/>
<polygon points="1330.0,839.7 1332.2,849.2 1330.0,858.7 1327.8,849.2"/>
<polygon points="1340.0,839.9 1342.2,849.4 1340.0,858.9 1337.8,849.4"/>
<polygon points="1350.0,839.1 1352.2,848.6 1350.0,858.1 1347.8,848.6"/>
<polygon points="1360.0,839.1 1362.2,848.6 1360.0,858.1 1357.8,848.6"/>
<polygon points="1370.0,838.7 1372.2,848.2 1370.0,857.7 1367.8,848.2"/>
<polygon points="1380.0,838.8 1382.2,848.3 1380.0,857.8 1377.8,848.3"/>
<polygon points="1390.0,838.6 1392.2,848.1 1390.0,857.6 1387.8,848.1"/>
<polygon points="1400.0,836.7 1402.2,846.2 1400.0,855.7 1397.8,846.2"/>
<polygon points="1410.0,835.6 1412.2,845.1 1410.0,854.6 1407.8,845.1"/>
<polygon points="1420.0,836.0 1422.2,845.5 1420.0,855.0 1417.8,845.5"/>
<polygon points="1430.0,834.7 1432.2,844.2 1430.0,853.7 1427.8,844.2"/>
<polygon points="1440.0,834.1 1442.2,843.6 1440.0,853.1 1437.8,843.6"/>
<polygon points="1450.0,835.0 1452.2,844.5 1450.0,854.0 1447.8,844.5"/>
<polygon points="1460.0,834.7 1462.2,844.2 1460.0,853.7 1457.8,844.2"/>
<polygon points="1470.0,836.9 1472.2,846.4 1470.0,855.9 1467.8,846.4"/>
<polygon points="1480.0,837.2 1482.2,846.7 1480.0,856.2 1477.8,846.7"/>
<polygon points="1490.0,839.4 1492.2,848.9 1490.0,858.4 1487.8,848.9"/>
<polygon points="1499.7,838.6 1501.9,848.1 1499.7,857.6 1497.5,848.1"/>
<polygon points="1509.3,836.5 1511.5,846.0 1509.3,855.5 1507.1,846.0"/>
<polygon points="1519.0,836.2 1521.2,845.7 1519.0,855.2 1516.8,845.7"/>
<polygon points="1528.7,837.2 1530.9,846.7 1528.7,856.2 1526.5,846.7"/>
<polygon points="1538.3,835.9 1540.5,845.4 1538.3,854.9 1536.1,845.4"/>
<polygon points="1548.0,835.0 1550.2,844.5 1548.0,854.0 1545.8,844.5"/>
<polygon points="1557.7,835.2 1559.9,844.7 1557.7,854.2 1555.5,844.7"/>
<polygon points="1567.3,834.7 1569.5,844.2 1567.3,853.7 1565.1,844.2"/>
<polygon points="1577.0,833.5 1579.2,843.0 1577.0,852.5 1574.8,843.0"/>
<polygon points="1586.7,832.9 1588.9,842.4 1586.7,851.9 1584.5,842.4"/>
<polygon points="1596.3,831.6 1598.5,841.1 1596.3,850.6 1594.1,841.1"/>
<polygon points="1606.0,831.5 1608.2,841.0 1606.0,850.5 1603.8,841.0"/>
<polygon points="1616.2,831.1 1618.5,840.6 1616.2,850.1 1614.0,840.6"/>
<polygon points="1626.5,832.1 1628.7,841.6 1626.5,851.1 1624.3,841.6"/>
<polygon points="1636.8,832.1 1639.0,841.6 1636.8,851.1 1634.5,841.6"/>
<polygon points="1647.0,831.2 1649.2,840.7 1647.0,850.2 1644.8,840.7"/>
<polygon points="1657.2,832.2 1659.5,841.7 1657.2,851.2 1655.0,841.7"/>
<polygon points="1667.5,831.1 1669.7,840.6 1667.5,850.1 1665.3,840.6"/>
<polygon points="1677.8,831.2 1680.0,840.7 1677.8,850.2 1675.5,840.7"/>
<polygon points="1688.0,832.3 1690.2,841.8 1688.0,851.3 1685.8,841.8"/>
</g>
<g fill="#BE7ADC" stroke="none">
<polyline points="232.0,1075.0 253.0,1057.0 298.0,1050.0 325.0,1048.0 500.0,1044.0 697.0,1042.5 716.5,1042.0" fill="none" stroke="#BE7ADC" stroke-width="11" stroke-linejoin="round"/>
<polyline points="716.5,940.0 730.6,913.0 763.0,875.0 808.0,875.0 880.0,871.5 900.0,868.6 951.5,863.5 999.5,868.6 1020.0,858.3 1045.8,865.0 1071.5,860.0 1102.4,867.0 1123.0,858.3 1157.3,860.0 1191.6,858.3 1201.5,859.0" fill="none" stroke="#BE7ADC" stroke-width="11" stroke-linejoin="round"/>
<line x1="716.5" y1="1042.0" x2="716.5" y2="940.0" stroke="#BE7ADC" stroke-width="7.5"/>
<polyline points="1201.5,600.0 1218.0,592.0 1230.0,580.0 1244.0,562.0 1258.0,548.0 1271.0,537.0 1346.0,531.0 1371.0,523.0 1429.0,525.0 1450.0,517.0 1462.0,525.0 1470.0,530.0 1482.0,521.0 1493.0,516.0 1601.0,516.0 1688.0,519.0" fill="none" stroke="#BE7ADC" stroke-width="11" stroke-linejoin="round"/>
<line x1="1201.5" y1="859.0" x2="1201.5" y2="600.0" stroke="#BE7ADC" stroke-width="7.5"/>
<rect x="229.3" y="1065.4" width="5.4" height="18.4"/>
<rect x="236.3" y="1059.1" width="5.4" height="18.4"/>
<rect x="243.3" y="1054.1" width="5.4" height="18.4"/>
<rect x="250.3" y="1046.9" width="5.4" height="18.4"/>
<rect x="259.3" y="1046.5" width="5.4" height="18.4"/>
<rect x="268.3" y="1044.7" width="5.4" height="18.4"/>
<rect x="277.3" y="1042.7" width="5.4" height="18.4"/>
<rect x="286.3" y="1042.2" width="5.4" height="18.4"/>
<rect x="295.3" y="1039.9" width="5.4" height="18.4"/>
<rect x="304.3" y="1040.0" width="5.4" height="18.4"/>
<rect x="313.3" y="1038.6" width="5.4" height="18.4"/>
<rect x="322.3" y="1038.0" width="5.4" height="18.4"/>
<rect x="332.0" y="1038.4" width="5.4" height="18.4"/>
<rect x="341.7" y="1039.0" width="5.4" height="18.4"/>
<rect x="351.5" y="1037.4" width="5.4" height="18.4"/>
<rect x="361.2" y="1037.4" width="5.4" height="18.4"/>
<rect x="370.9" y="1037.9" width="5.4" height="18.4"/>
<rect x="380.6" y="1038.4" width="5.4" height="18.4"/>
<rect x="390.4" y="1037.4" width="5.4" height="18.4"/>
<rect x="400.1" y="1036.8" width="5.4" height="18.4"/>
<rect x="409.8" y="1037.8" width="5.4" height="18.4"/>
<rect x="419.5" y="1035.7" width="5.4" height="18.4"/>
<rect x="429.2" y="1037.1" width="5.4" height="18.4"/>
<rect x="439.0" y="1035.7" width="5.4" height="18.4"/>
<rect x="448.7" y="1035.2" width="5.4" height="18.4"/>
<rect x="458.4" y="1034.9" width="5.4" height="18.4"/>
<rect x="468.1" y="1035.1" width="5.4" height="18.4"/>
<rect x="477.9" y="1035.9" width="5.4" height="18.4"/>
<rect x="487.6" y="1034.4" width="5.4" height="18.4"/>
<rect x="497.3" y="1035.0" width="5.4" height="18.4"/>
<rect x="507.2" y="1035.0" width="5.4" height="18.4"/>
<rect x="517.0" y="1034.4" width="5.4" height="18.4"/>
<rect x="526.8" y="1034.7" width="5.4" height="18.4"/>
<rect x="536.7" y="1033.6" width="5.4" height="18.4"/>
<rect x="546.5" y="1033.5" width="5.4" height="18.4"/>
<rect x="556.4" y="1033.8" width="5.4" height="18.4"/>
<rect x="566.2" y="1034.6" width="5.4" height="18.4"/>
<rect x="576.1" y="1034.1" width="5.4" height="18.4"/>
<rect x="585.9" y="1033.8" width="5.4" height="18.4"/>
<rect x="595.8" y="1034.2" width="5.4" height="18.4"/>
<rect x="605.6" y="1033.9" width="5.4" height="18.4"/>
<rect x="615.5" y="1033.5" width="5.4" height="18.4"/>
<rect x="625.3" y="1034.4" width="5.4" height="18.4"/>
<rect x="635.2" y="1034.1" width="5.4" height="18.4"/>
<rect x="645.0" y="1033.2" width="5.4" height="18.4"/>
<rect x="654.9" y="1033.7" width="5.4" height="18.4"/>
<rect x="664.8" y="1033.6" width="5.4" height="18.4"/>
<rect x="674.6" y="1034.2" width="5.4" height="18.4"/>
<rect x="684.4" y="1033.8" width="5.4" height="18.4"/>
<rect x="694.3" y="1032.9" width="5.4" height="18.4"/>
<rect x="704.0" y="1034.0" width="5.4" height="18.4"/>
<rect x="713.8" y="1032.0" width="5.4" height="18.4"/>
<rect x="713.8" y="930.6" width="5.4" height="18.4"/>
<rect x="718.5" y="922.3" width="5.4" height="18.4"/>
<rect x="723.2" y="912.1" width="5.4" height="18.4"/>
<rect x="727.9" y="903.8" width="5.4" height="18.4"/>
<rect x="734.4" y="895.3" width="5.4" height="18.4"/>
<rect x="740.9" y="888.9" width="5.4" height="18.4"/>
<rect x="747.3" y="881.5" width="5.4" height="18.4"/>
<rect x="753.8" y="873.5" width="5.4" height="18.4"/>
<rect x="760.3" y="866.6" width="5.4" height="18.4"/>
<rect x="771.5" y="865.4" width="5.4" height="18.4"/>
<rect x="782.8" y="866.2" width="5.4" height="18.4"/>
<rect x="794.0" y="866.0" width="5.4" height="18.4"/>
<rect x="805.3" y="866.0" width="5.4" height="18.4"/>
<rect x="815.6" y="865.2" width="5.4" height="18.4"/>
<rect x="825.9" y="865.5" width="5.4" height="18.4"/>
<rect x="836.2" y="865.2" width="5.4" height="18.4"/>
<rect x="846.4" y="863.7" width="5.4" height="18.4"/>
<rect x="856.7" y="863.6" width="5.4" height="18.4"/>
<rect x="867.0" y="861.9" width="5.4" height="18.4"/>
<rect x="877.3" y="862.7" width="5.4" height="18.4"/>
<rect x="887.3" y="861.1" width="5.4" height="18.4"/>
<rect x="897.3" y="860.4" width="5.4" height="18.4"/>
<rect x="907.6" y="859.0" width="5.4" height="18.4"/>
<rect x="917.9" y="856.9" width="5.4" height="18.4"/>
<rect x="928.2" y="856.1" width="5.4" height="18.4"/>
<rect x="938.5" y="855.7" width="5.4" height="18.4"/>
<rect x="948.8" y="853.3" width="5.4" height="18.4"/>
<rect x="958.4" y="855.2" width="5.4" height="18.4"/>
<rect x="968.0" y="855.7" width="5.4" height="18.4"/>
<rect x="977.6" y="856.6" width="5.4" height="18.4"/>
<rect x="987.2" y="857.5" width="5.4" height="18.4"/>
<rect x="996.8" y="859.9" width="5.4" height="18.4"/>
<rect x="1007.0" y="853.5" width="5.4" height="18.4"/>
<rect x="1017.3" y="848.6" width="5.4" height="18.4"/>
<rect x="1025.9" y="851.1" width="5.4" height="18.4"/>
<rect x="1034.5" y="854.3" width="5.4" height="18.4"/>
<rect x="1043.1" y="855.0" width="5.4" height="18.4"/>
<rect x="1051.7" y="854.0" width="5.4" height="18.4"/>
<rect x="1060.2" y="852.6" width="5.4" height="18.4"/>
<rect x="1068.8" y="851.6" width="5.4" height="18.4"/>
<rect x="1079.1" y="853.8" width="5.4" height="18.4"/>
<rect x="1089.4" y="856.2" width="5.4" height="18.4"/>
<rect x="1099.7" y="857.4" width="5.4" height="18.4"/>
<rect x="1110.0" y="853.3" width="5.4" height="18.4"/>
<rect x="1120.3" y="848.8" width="5.4" height="18.4"/>
<rect x="1131.7" y="850.4" width="5.4" height="18.4"/>
<rect x="1143.2" y="851.1" width="5.4" height="18.4"/>
<rect x="1154.6" y="850.1" width="5.4" height="18.4"/>
<rect x="1166.0" y="849.6" width="5.4" height="18.4"/>
<rect x="1177.5" y="849.1" width="5.4" height="18.4"/>
<rect x="1188.9" y="848.6" width="5.4" height="18.4"/>
<rect x="1198.8" y="849.8" width="5.4" height="18.4"/>
<rect x="1198.8" y="591.0" width="5.4" height="18.4"/>
<rect x="1207.0" y="586.3" width="5.4" height="18.4"/>
<rect x="1215.3" y="581.8" width="5.4" height="18.4"/>
<rect x="1221.3" y="576.6" width="5.4" height="18.4"/>
<rect x="1227.3" y="570.5" width="5.4" height="18.4"/>
<rect x="1234.3" y="561.9" width="5.4" height="18.4"/>
<rect x="1241.3" y="553.7" width="5.4" height="18.4"/>
<rect x="1248.3" y="546.2" width="5.4" height="18.4"/>
<rect x="1255.3" y="538.8" width="5.4" height="18.4"/>
<rect x="1261.8" y="533.5" width="5.4" height="18.4"/>
<rect x="1268.3" y="528.2" width="5.4" height="18.4"/>
<rect x="1277.7" y="526.2" width="5.4" height="18.4"/>
<rect x="1287.0" y="527.1" width="5.4" height="18.4"/>
<rect x="1296.4" y="526.1" width="5.4" height="18.4"/>
<rect x="1305.8" y="525.5" width="5.4" height="18.4"/>
<rect x="1315.2" y="524.6" width="5.4" height="18.4"/>
<rect x="1324.5" y="523.1" width="5.4" height="18.4"/>
<rect x="1333.9" y="522.3" width="5.4" height="18.4"/>
<rect x="1343.3" y="521.0" width="5.4" height="18.4"/>
<rect x="1351.6" y="519.4" width="5.4" height="18.4"/>
<rect x="1360.0" y="515.6" width="5.4" height="18.4"/>
<rect x="1368.3" y="512.9" width="5.4" height="18.4"/>
<rect x="1378.0" y="513.6" width="5.4" height="18.4"/>
<rect x="1387.6" y="513.8" width="5.4" height="18.4"/>
<rect x="1397.3" y="514.5" width="5.4" height="18.4"/>
<rect x="1407.0" y="514.2" width="5.4" height="18.4"/>
<rect x="1416.6" y="514.5" width="5.4" height="18.4"/>
<rect x="1426.3" y="515.1" width="5.4" height="18.4"/>
<rect x="1436.8" y="511.0" width="5.4" height="18.4"/>
<rect x="1447.3" y="507.5" width="5.4" height="18.4"/>
<rect x="1459.3" y="514.9" width="5.4" height="18.4"/>
<rect x="1467.3" y="521.5" width="5.4" height="18.4"/>
<rect x="1473.3" y="516.5" width="5.4" height="18.4"/>
<rect x="1479.3" y="511.1" width="5.4" height="18.4"/>
<rect x="1490.3" y="506.3" width="5.4" height="18.4"/>
<rect x="1500.1" y="506.5" width="5.4" height="18.4"/>
<rect x="1509.9" y="506.5" width="5.4" height="18.4"/>
<rect x="1519.8" y="506.0" width="5.4" height="18.4"/>
<rect x="1529.6" y="507.5" width="5.4" height="18.4"/>
<rect x="1539.4" y="507.8" width="5.4" height="18.4"/>
<rect x="1549.2" y="506.7" width="5.4" height="18.4"/>
<rect x="1559.0" y="506.8" width="5.4" height="18.4"/>
<rect x="1568.8" y="506.0" width="5.4" height="18.4"/>
<rect x="1578.7" y="506.0" width="5.4" height="18.4"/>
<rect x="1588.5" y="506.5" width="5.4" height="18.4"/>
<rect x="1598.3" y="506.3" width="5.4" height="18.4"/>
<rect x="1608.0" y="507.8" width="5.4" height="18.4"/>
<rect x="1617.6" y="506.8" width="5.4" height="18.4"/>
<rect x="1627.3" y="506.8" width="5.4" height="18.4"/>
<rect x="1637.0" y="509.0" width="5.4" height="18.4"/>
<rect x="1646.6" y="508.5" width="5.4" height="18.4"/>
<rect x="1656.3" y="508.1" width="5.4" height="18.4"/>
<rect x="1666.0" y="509.2" width="5.4" height="18.4"/>
<rect x="1675.6" y="508.5" width="5.4" height="18.4"/>
<rect x="1685.3" y="509.9" width="5.4" height="18.4"/>
</g>
<g fill="#D09800" stroke="none">
<polyline points="232.0,1057.0 253.0,1040.0 298.0,1036.0 325.0,1033.5 500.0,1029.0 697.0,1024.5 716.5,1024.0" fill="none" stroke="#D09800" stroke-width="8.5" stroke-linejoin="round"/>
<polyline points="716.5,888.0 730.6,866.0 763.0,845.0 808.0,837.0 880.0,834.0 900.0,831.0 985.8,827.4 1071.5,824.0 1157.3,822.3 1191.6,819.5 1201.5,819.5" fill="none" stroke="#D09800" stroke-width="8.5" stroke-linejoin="round"/>
<line x1="716.5" y1="1024.0" x2="716.5" y2="888.0" stroke="#D09800" stroke-width="7.5"/>
<polyline points="1201.5,586.0 1203.0,575.0 1208.0,562.0 1217.0,544.0 1226.0,530.4 1235.0,521.5 1248.4,512.5 1266.4,505.3 1296.0,504.0 1363.0,503.0 1429.0,499.8 1479.0,498.0 1688.0,493.5" fill="none" stroke="#D09800" stroke-width="8.5" stroke-linejoin="round"/>
<line x1="1201.5" y1="819.5" x2="1201.5" y2="586.0" stroke="#D09800" stroke-width="7.5"/>
<rect x="229.6" y="1047.7" width="4.8" height="17.6"/>
<rect x="236.6" y="1043.5" width="4.8" height="17.6"/>
<rect x="243.6" y="1036.1" width="4.8" height="17.6"/>
<rect x="250.6" y="1031.6" width="4.8" height="17.6"/>
<rect x="259.6" y="1029.6" width="4.8" height="17.6"/>
<rect x="268.6" y="1029.1" width="4.8" height="17.6"/>
<rect x="277.6" y="1029.8" width="4.8" height="17.6"/>
<rect x="286.6" y="1027.4" width="4.8" height="17.6"/>
<rect x="295.6" y="1027.5" width="4.8" height="17.6"/>
<rect x="304.6" y="1026.3" width="4.8" height="17.6"/>
<rect x="313.6" y="1025.4" width="4.8" height="17.6"/>
<rect x="322.6" y="1024.7" width="4.8" height="17.6"/>
<rect x="332.3" y="1023.8" width="4.8" height="17.6"/>
<rect x="342.0" y="1024.9" width="4.8" height="17.6"/>
<rect x="351.8" y="1023.1" width="4.8" height="17.6"/>
<rect x="361.5" y="1023.2" width="4.8" height="17.6"/>
<rect x="371.2" y="1022.5" width="4.8" height="17.6"/>
<rect x="380.9" y="1022.7" width="4.8" height="17.6"/>
<rect x="390.7" y="1022.8" width="4.8" height="17.6"/>
<rect x="400.4" y="1023.5" width="4.8" height="17.6"/>
<rect x="410.1" y="1022.2" width="4.8" height="17.6"/>
<rect x="419.8" y="1021.4" width="4.8" height="17.6"/>
<rect x="429.5" y="1021.5" width="4.8" height="17.6"/>
<rect x="439.3" y="1022.7" width="4.8" height="17.6"/>
<rect x="449.0" y="1020.6" width="4.8" height="17.6"/>
<rect x="458.7" y="1021.4" width="4.8" height="17.6"/>
<rect x="468.4" y="1020.7" width="4.8" height="17.6"/>
<rect x="478.2" y="1021.0" width="4.8" height="17.6"/>
<rect x="487.9" y="1020.1" width="4.8" height="17.6"/>
<rect x="497.6" y="1020.6" width="4.8" height="17.6"/>
<rect x="507.5" y="1020.0" width="4.8" height="17.6"/>
<rect x="517.3" y="1020.0" width="4.8" height="17.6"/>
<rect x="527.1" y="1020.3" width="4.8" height="17.6"/>
<rect x="537.0" y="1019.5" width="4.8" height="17.6"/>
<rect x="546.9" y="1018.4" width="4.8" height="17.6"/>
<rect x="556.7" y="1018.0" width="4.8" height="17.6"/>
<rect x="566.6" y="1019.5" width="4.8" height="17.6"/>
<rect x="576.4" y="1018.4" width="4.8" height="17.6"/>
<rect x="586.2" y="1017.6" width="4.8" height="17.6"/>
<rect x="596.1" y="1018.8" width="4.8" height="17.6"/>
<rect x="606.0" y="1017.9" width="4.8" height="17.6"/>
<rect x="615.8" y="1018.0" width="4.8" height="17.6"/>
<rect x="625.6" y="1018.0" width="4.8" height="17.6"/>
<rect x="635.5" y="1016.6" width="4.8" height="17.6"/>
<rect x="645.4" y="1016.5" width="4.8" height="17.6"/>
<rect x="655.2" y="1017.4" width="4.8" height="17.6"/>
<rect x="665.1" y="1015.6" width="4.8" height="17.6"/>
<rect x="674.9" y="1016.7" width="4.8" height="17.6"/>
<rect x="684.8" y="1015.1" width="4.8" height="17.6"/>
<rect x="694.6" y="1016.1" width="4.8" height="17.6"/>
<rect x="704.4" y="1015.9" width="4.8" height="17.6"/>
<rect x="714.1" y="1016.1" width="4.8" height="17.6"/>
<rect x="714.1" y="879.9" width="4.8" height="17.6"/>
<rect x="718.8" y="871.9" width="4.8" height="17.6"/>
<rect x="723.5" y="863.9" width="4.8" height="17.6"/>
<rect x="728.2" y="856.5" width="4.8" height="17.6"/>
<rect x="736.3" y="852.0" width="4.8" height="17.6"/>
<rect x="744.4" y="846.7" width="4.8" height="17.6"/>
<rect x="752.5" y="840.6" width="4.8" height="17.6"/>
<rect x="760.6" y="837.0" width="4.8" height="17.6"/>
<rect x="769.6" y="834.6" width="4.8" height="17.6"/>
<rect x="778.6" y="833.4" width="4.8" height="17.6"/>
<rect x="787.6" y="830.8" width="4.8" height="17.6"/>
<rect x="796.6" y="829.3" width="4.8" height="17.6"/>
<rect x="805.6" y="827.2" width="4.8" height="17.6"/>
<rect x="815.9" y="827.5" width="4.8" height="17.6"/>
<rect x="826.2" y="826.9" width="4.8" height="17.6"/>
<rect x="836.5" y="826.8" width="4.8" height="17.6"/>
<rect x="846.7" y="826.2" width="4.8" height="17.6"/>
<rect x="857.0" y="826.7" width="4.8" height="17.6"/>
<rect x="867.3" y="826.4" width="4.8" height="17.6"/>
<rect x="877.6" y="824.6" width="4.8" height="17.6"/>
<rect x="887.6" y="823.5" width="4.8" height="17.6"/>
<rect x="897.6" y="821.5" width="4.8" height="17.6"/>
<rect x="907.1" y="822.1" width="4.8" height="17.6"/>
<rect x="916.7" y="822.3" width="4.8" height="17.6"/>
<rect x="926.2" y="820.4" width="4.8" height="17.6"/>
<rect x="935.7" y="821.1" width="4.8" height="17.6"/>
<rect x="945.3" y="819.8" width="4.8" height="17.6"/>
<rect x="954.8" y="818.8" width="4.8" height="17.6"/>
<rect x="964.3" y="819.9" width="4.8" height="17.6"/>
<rect x="973.9" y="818.7" width="4.8" height="17.6"/>
<rect x="983.4" y="817.9" width="4.8" height="17.6"/>
<rect x="992.9" y="818.1" width="4.8" height="17.6"/>
<rect x="1002.4" y="817.3" width="4.8" height="17.6"/>
<rect x="1012.0" y="817.3" width="4.8" height="17.6"/>
<rect x="1021.5" y="817.0" width="4.8" height="17.6"/>
<rect x="1031.0" y="816.5" width="4.8" height="17.6"/>
<rect x="1040.5" y="816.5" width="4.8" height="17.6"/>
<rect x="1050.1" y="815.5" width="4.8" height="17.6"/>
<rect x="1059.6" y="814.8" width="4.8" height="17.6"/>
<rect x="1069.1" y="814.4" width="4.8" height="17.6"/>
<rect x="1078.6" y="814.2" width="4.8" height="17.6"/>
<rect x="1088.2" y="814.9" width="4.8" height="17.6"/>
<rect x="1097.7" y="814.4" width="4.8" height="17.6"/>
<rect x="1107.2" y="815.1" width="4.8" height="17.6"/>
<rect x="1116.8" y="814.3" width="4.8" height="17.6"/>
<rect x="1126.3" y="814.5" width="4.8" height="17.6"/>
<rect x="1135.8" y="814.8" width="4.8" height="17.6"/>
<rect x="1145.4" y="812.8" width="4.8" height="17.6"/>
<rect x="1154.9" y="812.5" width="4.8" height="17.6"/>
<rect x="1166.3" y="811.8" width="4.8" height="17.6"/>
<rect x="1177.8" y="811.4" width="4.8" height="17.6"/>
<rect x="1189.2" y="810.8" width="4.8" height="17.6"/>
<rect x="1199.1" y="811.2" width="4.8" height="17.6"/>
<rect x="1199.1" y="576.9" width="4.8" height="17.6"/>
<rect x="1200.6" y="567.1" width="4.8" height="17.6"/>
<rect x="1205.6" y="552.2" width="4.8" height="17.6"/>
<rect x="1210.1" y="544.9" width="4.8" height="17.6"/>
<rect x="1214.6" y="534.6" width="4.8" height="17.6"/>
<rect x="1219.1" y="529.2" width="4.8" height="17.6"/>
<rect x="1223.6" y="520.7" width="4.8" height="17.6"/>
<rect x="1232.6" y="513.6" width="4.8" height="17.6"/>
<rect x="1239.3" y="508.7" width="4.8" height="17.6"/>
<rect x="1246.0" y="504.7" width="4.8" height="17.6"/>
<rect x="1255.0" y="500.3" width="4.8" height="17.6"/>
<rect x="1264.0" y="495.9" width="4.8" height="17.6"/>
<rect x="1273.9" y="497.0" width="4.8" height="17.6"/>
<rect x="1283.7" y="495.5" width="4.8" height="17.6"/>
<rect x="1293.6" y="494.4" width="4.8" height="17.6"/>
<rect x="1303.2" y="495.3" width="4.8" height="17.6"/>
<rect x="1312.7" y="494.9" width="4.8" height="17.6"/>
<rect x="1322.3" y="494.7" width="4.8" height="17.6"/>
<rect x="1331.9" y="493.9" width="4.8" height="17.6"/>
<rect x="1341.5" y="493.7" width="4.8" height="17.6"/>
<rect x="1351.0" y="494.5" width="4.8" height="17.6"/>
<rect x="1360.6" y="494.1" width="4.8" height="17.6"/>
<rect x="1370.0" y="493.0" width="4.8" height="17.6"/>
<rect x="1379.5" y="493.2" width="4.8" height="17.6"/>
<rect x="1388.9" y="493.3" width="4.8" height="17.6"/>
<rect x="1398.3" y="492.8" width="4.8" height="17.6"/>
<rect x="1407.7" y="491.9" width="4.8" height="17.6"/>
<rect x="1417.2" y="491.2" width="4.8" height="17.6"/>
<rect x="1426.6" y="490.7" width="4.8" height="17.6"/>
<rect x="1436.6" y="490.1" width="4.8" height="17.6"/>
<rect x="1446.6" y="489.7" width="4.8" height="17.6"/>
<rect x="1456.6" y="489.8" width="4.8" height="17.6"/>
<rect x="1466.6" y="488.8" width="4.8" height="17.6"/>
<rect x="1476.6" y="489.7" width="4.8" height="17.6"/>
<rect x="1486.6" y="489.4" width="4.8" height="17.6"/>
<rect x="1496.5" y="489.0" width="4.8" height="17.6"/>
<rect x="1506.5" y="487.6" width="4.8" height="17.6"/>
<rect x="1516.4" y="488.1" width="4.8" height="17.6"/>
<rect x="1526.4" y="488.0" width="4.8" height="17.6"/>
<rect x="1536.3" y="487.1" width="4.8" height="17.6"/>
<rect x="1546.3" y="488.6" width="4.8" height="17.6"/>
<rect x="1556.2" y="488.0" width="4.8" height="17.6"/>
<rect x="1566.2" y="487.3" width="4.8" height="17.6"/>
<rect x="1576.1" y="487.5" width="4.8" height="17.6"/>
<rect x="1586.1" y="486.2" width="4.8" height="17.6"/>
<rect x="1596.0" y="486.1" width="4.8" height="17.6"/>
<rect x="1606.0" y="486.5" width="4.8" height="17.6"/>
<rect x="1615.9" y="486.7" width="4.8" height="17.6"/>
<rect x="1625.9" y="486.3" width="4.8" height="17.6"/>
<rect x="1635.8" y="484.8" width="4.8" height="17.6"/>
<rect x="1645.8" y="485.8" width="4.8" height="17.6"/>
<rect x="1655.7" y="486.2" width="4.8" height="17.6"/>
<rect x="1665.7" y="485.6" width="4.8" height="17.6"/>
<rect x="1675.6" y="485.8" width="4.8" height="17.6"/>
<rect x="1685.6" y="485.7" width="4.8" height="17.6"/>
</g>
<g fill="#00BFC3" stroke="none">
<polyline points="232.0,1037.0 253.0,1023.5 298.0,1019.7 325.0,1017.0 360.0,1015.0 377.0,1022.0 395.0,1013.0 500.0,1009.5 600.0,1008.5 697.0,1008.0 716.5,1008.0" fill="none" stroke="#00BFC3" stroke-width="10.5" stroke-linejoin="round"/>
<polyline points="716.5,906.0 730.6,885.0 763.0,863.0 808.0,854.0 880.0,850.0 900.0,849.7 925.7,844.6 943.0,849.7 977.0,838.6 989.0,846.3 1003.0,839.5 1028.6,846.3 1054.0,832.6 1071.5,841.0 1097.0,837.7 1123.0,829.0 1148.7,844.6 1174.4,843.0 1191.6,832.6 1201.5,834.0" fill="none" stroke="#00BFC3" stroke-width="10.5" stroke-linejoin="round"/>
<line x1="716.5" y1="1008.0" x2="716.5" y2="906.0" stroke="#00BFC3" stroke-width="7.5"/>
<polyline points="1201.5,618.0 1208.0,614.7 1227.7,603.6 1255.0,590.0 1277.5,578.7 1297.0,591.0 1324.5,578.7 1371.5,569.0 1388.0,584.3 1429.7,587.0 1440.7,576.0 1476.7,573.0 1532.0,581.5 1546.0,570.4 1615.0,576.0 1665.0,570.4 1688.0,573.0" fill="none" stroke="#00BFC3" stroke-width="10.5" stroke-linejoin="round"/>
<line x1="1201.5" y1="834.0" x2="1201.5" y2="618.0" stroke="#00BFC3" stroke-width="7.5"/>
<rect x="229.5" y="1028.1" width="5.0" height="17.6"/>
<rect x="240.0" y="1021.2" width="5.0" height="17.6"/>
<rect x="250.5" y="1014.0" width="5.0" height="17.6"/>
<rect x="259.5" y="1014.7" width="5.0" height="17.6"/>
<rect x="268.5" y="1012.2" width="5.0" height="17.6"/>
<rect x="277.5" y="1012.4" width="5.0" height="17.6"/>
<rect x="286.5" y="1012.5" width="5.0" height="17.6"/>
<rect x="295.5" y="1010.1" width="5.0" height="17.6"/>
<rect x="304.5" y="1010.1" width="5.0" height="17.6"/>
<rect x="313.5" y="1009.3" width="5.0" height="17.6"/>
<rect x="322.5" y="1007.3" width="5.0" height="17.6"/>
<rect x="331.2" y="1007.5" width="5.0" height="17.6"/>
<rect x="340.0" y="1007.6" width="5.0" height="17.6"/>
<rect x="348.8" y="1006.6" width="5.0" height="17.6"/>
<rect x="357.5" y="1006.7" width="5.0" height="17.6"/>
<rect x="366.0" y="1009.0" width="5.0" height="17.6"/>
<rect x="374.5" y="1012.7" width="5.0" height="17.6"/>
<rect x="383.5" y="1007.9" width="5.0" height="17.6"/>
<rect x="392.5" y="1004.2" width="5.0" height="17.6"/>
<rect x="402.0" y="1004.7" width="5.0" height="17.6"/>
<rect x="411.6" y="1003.7" width="5.0" height="17.6"/>
<rect x="421.1" y="1003.8" width="5.0" height="17.6"/>
<rect x="430.7" y="1002.7" width="5.0" height="17.6"/>
<rect x="440.2" y="1003.1" width="5.0" height="17.6"/>
<rect x="449.8" y="1001.5" width="5.0" height="17.6"/>
<rect x="459.3" y="1001.6" width="5.0" height="17.6"/>
<rect x="468.9" y="1002.0" width="5.0" height="17.6"/>
<rect x="478.4" y="1001.8" width="5.0" height="17.6"/>
<rect x="488.0" y="1000.9" width="5.0" height="17.6"/>
<rect x="497.5" y="999.9" width="5.0" height="17.6"/>
<rect x="507.5" y="1000.1" width="5.0" height="17.6"/>
<rect x="517.5" y="999.9" width="5.0" height="17.6"/>
<rect x="527.5" y="1000.0" width="5.0" height="17.6"/>
<rect x="537.5" y="1000.9" width="5.0" height="17.6"/>
<rect x="547.5" y="999.6" width="5.0" height="17.6"/>
<rect x="557.5" y="1000.9" width="5.0" height="17.6"/>
<rect x="567.5" y="1000.8" width="5.0" height="17.6"/>
<rect x="577.5" y="999.0" width="5.0" height="17.6"/>
<rect x="587.5" y="999.6" width="5.0" height="17.6"/>
<rect x="597.5" y="999.7" width="5.0" height="17.6"/>
<rect x="607.2" y="998.7" width="5.0" height="17.6"/>
<rect x="616.9" y="999.4" width="5.0" height="17.6"/>
<rect x="626.6" y="1000.4" width="5.0" height="17.6"/>
<rect x="636.3" y="998.7" width="5.0" height="17.6"/>
<rect x="646.0" y="999.6" width="5.0" height="17.6"/>
<rect x="655.7" y="998.6" width="5.0" height="17.6"/>
<rect x="665.4" y="999.5" width="5.0" height="17.6"/>
<rect x="675.1" y="1000.1" width="5.0" height="17.6"/>
<rect x="684.8" y="998.7" width="5.0" height="17.6"/>
<rect x="694.5" y="998.2" width="5.0" height="17.6"/>
<rect x="704.2" y="998.4" width="5.0" height="17.6"/>
<rect x="714.0" y="999.3" width="5.0" height="17.6"/>
<rect x="714.0" y="896.2" width="5.0" height="17.6"/>
<rect x="718.7" y="889.4" width="5.0" height="17.6"/>
<rect x="723.4" y="883.2" width="5.0" height="17.6"/>
<rect x="728.1" y="877.0" width="5.0" height="17.6"/>
<rect x="736.2" y="870.5" width="5.0" height="17.6"/>
<rect x="744.3" y="865.0" width="5.0" height="17.6"/>
<rect x="752.4" y="860.0" width="5.0" height="17.6"/>
<rect x="760.5" y="853.4" width="5.0" height="17.6"/>
<rect x="769.5" y="852.6" width="5.0" height="17.6"/>
<rect x="778.5" y="849.9" width="5.0" height="17.6"/>
<rect x="787.5" y="849.0" width="5.0" height="17.6"/>
<rect x="796.5" y="847.9" width="5.0" height="17.6"/>
<rect x="805.5" y="844.3" width="5.0" height="17.6"/>
<rect x="815.8" y="844.7" width="5.0" height="17.6"/>
<rect x="826.1" y="844.3" width="5.0" height="17.6"/>
<rect x="836.4" y="842.8" width="5.0" height="17.6"/>
<rect x="846.6" y="842.5" width="5.0" height="17.6"/>
<rect x="856.9" y="843.3" width="5.0" height="17.6"/>
<rect x="867.2" y="842.8" width="5.0" height="17.6"/>
<rect x="877.5" y="840.4" width="5.0" height="17.6"/>
<rect x="887.5" y="841.5" width="5.0" height="17.6"/>
<rect x="897.5" y="841.8" width="5.0" height="17.6"/>
<rect x="906.1" y="838.7" width="5.0" height="17.6"/>
<rect x="914.6" y="837.7" width="5.0" height="17.6"/>
<rect x="923.2" y="834.9" width="5.0" height="17.6"/>
<rect x="931.9" y="838.1" width="5.0" height="17.6"/>
<rect x="940.5" y="841.2" width="5.0" height="17.6"/>
<rect x="949.0" y="838.3" width="5.0" height="17.6"/>
<rect x="957.5" y="835.9" width="5.0" height="17.6"/>
<rect x="966.0" y="831.7" width="5.0" height="17.6"/>
<rect x="974.5" y="829.5" width="5.0" height="17.6"/>
<rect x="986.5" y="838.2" width="5.0" height="17.6"/>
<rect x="993.5" y="834.3" width="5.0" height="17.6"/>
<rect x="1000.5" y="830.6" width="5.0" height="17.6"/>
<rect x="1009.0" y="832.8" width="5.0" height="17.6"/>
<rect x="1017.6" y="836.2" width="5.0" height="17.6"/>
<rect x="1026.1" y="837.6" width="5.0" height="17.6"/>
<rect x="1034.6" y="832.0" width="5.0" height="17.6"/>
<rect x="1043.0" y="829.0" width="5.0" height="17.6"/>
<rect x="1051.5" y="823.5" width="5.0" height="17.6"/>
<rect x="1060.2" y="827.9" width="5.0" height="17.6"/>
<rect x="1069.0" y="831.6" width="5.0" height="17.6"/>
<rect x="1077.5" y="831.0" width="5.0" height="17.6"/>
<rect x="1086.0" y="829.6" width="5.0" height="17.6"/>
<rect x="1094.5" y="828.1" width="5.0" height="17.6"/>
<rect x="1103.2" y="826.3" width="5.0" height="17.6"/>
<rect x="1111.8" y="822.3" width="5.0" height="17.6"/>
<rect x="1120.5" y="820.8" width="5.0" height="17.6"/>
<rect x="1129.1" y="824.5" width="5.0" height="17.6"/>
<rect x="1137.6" y="831.2" width="5.0" height="17.6"/>
<rect x="1146.2" y="836.4" width="5.0" height="17.6"/>
<rect x="1154.8" y="835.3" width="5.0" height="17.6"/>
<rect x="1163.3" y="835.2" width="5.0" height="17.6"/>
<rect x="1171.9" y="833.7" width="5.0" height="17.6"/>
<rect x="1180.5" y="829.5" width="5.0" height="17.6"/>
<rect x="1189.1" y="823.7" width="5.0" height="17.6"/>
<rect x="1199.0" y="824.7" width="5.0" height="17.6"/>
<rect x="1199.0" y="610.1" width="5.0" height="17.6"/>
<rect x="1205.5" y="605.7" width="5.0" height="17.6"/>
<rect x="1215.3" y="600.1" width="5.0" height="17.6"/>
<rect x="1225.2" y="595.5" width="5.0" height="17.6"/>
<rect x="1234.3" y="590.0" width="5.0" height="17.6"/>
<rect x="1243.4" y="586.1" width="5.0" height="17.6"/>
<rect x="1252.5" y="580.5" width="5.0" height="17.6"/>
<rect x="1260.0" y="578.1" width="5.0" height="17.6"/>
<rect x="1267.5" y="573.2" width="5.0" height="17.6"/>
<rect x="1275.0" y="569.0" width="5.0" height="17.6"/>
<rect x="1284.8" y="577.0" width="5.0" height="17.6"/>
<rect x="1294.5" y="581.5" width="5.0" height="17.6"/>
<rect x="1303.7" y="579.0" width="5.0" height="17.6"/>
<rect x="1312.8" y="575.0" width="5.0" height="17.6"/>
<rect x="1322.0" y="570.1" width="5.0" height="17.6"/>
<rect x="1331.4" y="567.0" width="5.0" height="17.6"/>
<rect x="1340.8" y="565.1" width="5.0" height="17.6"/>
<rect x="1350.2" y="563.5" width="5.0" height="17.6"/>
<rect x="1359.6" y="561.9" width="5.0" height="17.6"/>
<rect x="1369.0" y="560.4" width="5.0" height="17.6"/>
<rect x="1377.2" y="568.8" width="5.0" height="17.6"/>
<rect x="1385.5" y="575.2" width="5.0" height="17.6"/>
<rect x="1395.9" y="575.5" width="5.0" height="17.6"/>
<rect x="1406.3" y="577.0" width="5.0" height="17.6"/>
<rect x="1416.8" y="576.8" width="5.0" height="17.6"/>
<rect x="1427.2" y="577.4" width="5.0" height="17.6"/>
<rect x="1432.7" y="572.8" width="5.0" height="17.6"/>
<rect x="1438.2" y="567.6" width="5.0" height="17.6"/>
<rect x="1447.2" y="565.6" width="5.0" height="17.6"/>
<rect x="1456.2" y="565.6" width="5.0" height="17.6"/>
<rect x="1465.2" y="565.4" width="5.0" height="17.6"/>
<rect x="1474.2" y="564.7" width="5.0" height="17.6"/>
<rect x="1483.4" y="565.4" width="5.0" height="17.6"/>
<rect x="1492.6" y="567.8" width="5.0" height="17.6"/>
<rect x="1501.8" y="567.8" width="5.0" height="17.6"/>
<rect x="1511.1" y="570.3" width="5.0" height="17.6"/>
<rect x="1520.3" y="571.8" width="5.0" height="17.6"/>
<rect x="1529.5" y="573.5" width="5.0" height="17.6"/>
<rect x="1536.5" y="567.1" width="5.0" height="17.6"/>
<rect x="1543.5" y="560.8" width="5.0" height="17.6"/>
<rect x="1553.4" y="561.5" width="5.0" height="17.6"/>
<rect x="1563.2" y="563.3" width="5.0" height="17.6"/>
<rect x="1573.1" y="563.3" width="5.0" height="17.6"/>
<rect x="1582.9" y="565.1" width="5.0" height="17.6"/>
<rect x="1592.8" y="564.8" width="5.0" height="17.6"/>
<rect x="1602.6" y="567.0" width="5.0" height="17.6"/>
<rect x="1612.5" y="566.6" width="5.0" height="17.6"/>
<rect x="1622.5" y="565.1" width="5.0" height="17.6"/>
<rect x="1632.5" y="564.3" width="5.0" height="17.6"/>
<rect x="1642.5" y="563.8" width="5.0" height="17.6"/>
<rect x="1652.5" y="562.8" width="5.0" height="17.6"/>
<rect x="1662.5" y="561.4" width="5.0" height="17.6"/>
<rect x="1674.0" y="562.2" width="5.0" height="17.6"/>
<rect x="1685.5" y="564.2" width="5.0" height="17.6"/>
</g>
<g fill="#8A4C4E" stroke="none">
<polyline points="232.0,1020.0 253.0,1010.5 298.0,1006.0 325.0,1004.0 500.0,998.0 697.0,994.5 716.5,994.5" fill="none" stroke="#8A4C4E" stroke-width="10" stroke-linejoin="round"/>
<polyline points="716.5,855.0 730.6,824.7 745.0,814.0 790.0,810.0 880.0,807.6 952.0,806.0 1184.0,800.5 1201.5,800.0" fill="none" stroke="#8A4C4E" stroke-width="10" stroke-linejoin="round"/>
<line x1="716.5" y1="994.5" x2="716.5" y2="855.0" stroke="#8A4C4E" stroke-width="7.5"/>
<polyline points="1201.5,600.0 1205.0,588.0 1217.0,574.5 1226.0,566.5 1244.0,560.5 1270.0,557.0 1311.0,556.0 1346.0,555.0 1421.0,547.0 1440.0,543.0 1466.0,544.0 1474.0,531.0 1493.0,534.0 1520.0,532.0 1565.0,530.0 1578.0,526.0 1601.0,522.0 1637.0,519.6 1688.0,515.0" fill="none" stroke="#8A4C4E" stroke-width="10" stroke-linejoin="round"/>
<line x1="1201.5" y1="800.0" x2="1201.5" y2="600.0" stroke="#8A4C4E" stroke-width="7.5"/>
<rect x="229.3" y="1011.5" width="5.4" height="17.2"/>
<rect x="239.8" y="1006.5" width="5.4" height="17.2"/>
<rect x="250.3" y="1002.1" width="5.4" height="17.2"/>
<rect x="259.3" y="1000.4" width="5.4" height="17.2"/>
<rect x="268.3" y="1000.7" width="5.4" height="17.2"/>
<rect x="277.3" y="999.8" width="5.4" height="17.2"/>
<rect x="286.3" y="998.6" width="5.4" height="17.2"/>
<rect x="295.3" y="996.7" width="5.4" height="17.2"/>
<rect x="304.3" y="996.8" width="5.4" height="17.2"/>
<rect x="313.3" y="995.7" width="5.4" height="17.2"/>
<rect x="322.3" y="994.9" width="5.4" height="17.2"/>
<rect x="332.0" y="996.0" width="5.4" height="17.2"/>
<rect x="341.7" y="995.7" width="5.4" height="17.2"/>
<rect x="351.5" y="993.5" width="5.4" height="17.2"/>
<rect x="361.2" y="994.8" width="5.4" height="17.2"/>
<rect x="370.9" y="993.9" width="5.4" height="17.2"/>
<rect x="380.6" y="993.2" width="5.4" height="17.2"/>
<rect x="390.4" y="992.6" width="5.4" height="17.2"/>
<rect x="400.1" y="993.1" width="5.4" height="17.2"/>
<rect x="409.8" y="992.3" width="5.4" height="17.2"/>
<rect x="419.5" y="992.4" width="5.4" height="17.2"/>
<rect x="429.2" y="992.1" width="5.4" height="17.2"/>
<rect x="439.0" y="990.7" width="5.4" height="17.2"/>
<rect x="448.7" y="991.6" width="5.4" height="17.2"/>
<rect x="458.4" y="991.7" width="5.4" height="17.2"/>
<rect x="468.1" y="991.3" width="5.4" height="17.2"/>
<rect x="477.9" y="990.3" width="5.4" height="17.2"/>
<rect x="487.6" y="988.8" width="5.4" height="17.2"/>
<rect x="497.3" y="988.4" width="5.4" height="17.2"/>
<rect x="507.2" y="988.5" width="5.4" height="17.2"/>
<rect x="517.0" y="989.9" width="5.4" height="17.2"/>
<rect x="526.8" y="988.5" width="5.4" height="17.2"/>
<rect x="536.7" y="988.4" width="5.4" height="17.2"/>
<rect x="546.5" y="989.3" width="5.4" height="17.2"/>
<rect x="556.4" y="988.0" width="5.4" height="17.2"/>
<rect x="566.2" y="988.3" width="5.4" height="17.2"/>
<rect x="576.1" y="987.9" width="5.4" height="17.2"/>
<rect x="585.9" y="987.0" width="5.4" height="17.2"/>
<rect x="595.8" y="987.8" width="5.4" height="17.2"/>
<rect x="605.6" y="988.2" width="5.4" height="17.2"/>
<rect x="615.5" y="986.6" width="5.4" height="17.2"/>
<rect x="625.3" y="986.6" width="5.4" height="17.2"/>
<rect x="635.2" y="986.8" width="5.4" height="17.2"/>
<rect x="645.0" y="985.8" width="5.4" height="17.2"/>
<rect x="654.9" y="986.6" width="5.4" height="17.2"/>
<rect x="664.8" y="987.1" width="5.4" height="17.2"/>
<rect x="674.6" y="986.6" width="5.4" height="17.2"/>
<rect x="684.4" y="986.1" width="5.4" height="17.2"/>
<rect x="694.3" y="986.6" width="5.4" height="17.2"/>
<rect x="704.0" y="985.2" width="5.4" height="17.2"/>
<rect x="713.8" y="986.0" width="5.4" height="17.2"/>
<rect x="713.8" y="846.1" width="5.4" height="17.2"/>
<rect x="718.5" y="836.5" width="5.4" height="17.2"/>
<rect x="723.2" y="825.4" width="5.4" height="17.2"/>
<rect x="727.9" y="816.7" width="5.4" height="17.2"/>
<rect x="735.1" y="809.9" width="5.4" height="17.2"/>
<rect x="742.3" y="804.7" width="5.4" height="17.2"/>
<rect x="751.3" y="805.2" width="5.4" height="17.2"/>
<rect x="760.3" y="804.7" width="5.4" height="17.2"/>
<rect x="769.3" y="802.9" width="5.4" height="17.2"/>
<rect x="778.3" y="802.0" width="5.4" height="17.2"/>
<rect x="787.3" y="800.9" width="5.4" height="17.2"/>
<rect x="797.3" y="800.7" width="5.4" height="17.2"/>
<rect x="807.3" y="801.1" width="5.4" height="17.2"/>
<rect x="817.3" y="800.0" width="5.4" height="17.2"/>
<rect x="827.3" y="799.6" width="5.4" height="17.2"/>
<rect x="837.3" y="800.0" width="5.4" height="17.2"/>
<rect x="847.3" y="799.1" width="5.4" height="17.2"/>
<rect x="857.3" y="799.8" width="5.4" height="17.2"/>
<rect x="867.3" y="799.9" width="5.4" height="17.2"/>
<rect x="877.3" y="799.6" width="5.4" height="17.2"/>
<rect x="887.6" y="798.7" width="5.4" height="17.2"/>
<rect x="897.9" y="798.2" width="5.4" height="17.2"/>
<rect x="908.2" y="798.2" width="5.4" height="17.2"/>
<rect x="918.4" y="797.1" width="5.4" height="17.2"/>
<rect x="928.7" y="798.3" width="5.4" height="17.2"/>
<rect x="939.0" y="797.3" width="5.4" height="17.2"/>
<rect x="949.3" y="797.0" width="5.4" height="17.2"/>
<rect x="959.4" y="796.3" width="5.4" height="17.2"/>
<rect x="969.5" y="796.8" width="5.4" height="17.2"/>
<rect x="979.6" y="796.8" width="5.4" height="17.2"/>
<rect x="989.6" y="796.2" width="5.4" height="17.2"/>
<rect x="999.7" y="796.9" width="5.4" height="17.2"/>
<rect x="1009.8" y="796.3" width="5.4" height="17.2"/>
<rect x="1019.9" y="795.2" width="5.4" height="17.2"/>
<rect x="1030.0" y="795.5" width="5.4" height="17.2"/>
<rect x="1040.1" y="796.1" width="5.4" height="17.2"/>
<rect x="1050.2" y="795.0" width="5.4" height="17.2"/>
<rect x="1060.3" y="795.0" width="5.4" height="17.2"/>
<rect x="1070.3" y="793.7" width="5.4" height="17.2"/>
<rect x="1080.4" y="794.3" width="5.4" height="17.2"/>
<rect x="1090.5" y="794.0" width="5.4" height="17.2"/>
<rect x="1100.6" y="793.6" width="5.4" height="17.2"/>
<rect x="1110.7" y="793.4" width="5.4" height="17.2"/>
<rect x="1120.8" y="793.5" width="5.4" height="17.2"/>
<rect x="1130.9" y="793.2" width="5.4" height="17.2"/>
<rect x="1141.0" y="792.8" width="5.4" height="17.2"/>
<rect x="1151.0" y="791.9" width="5.4" height="17.2"/>
<rect x="1161.1" y="792.3" width="5.4" height="17.2"/>
<rect x="1171.2" y="793.1" width="5.4" height="17.2"/>
<rect x="1181.3" y="791.7" width="5.4" height="17.2"/>
<rect x="1190.0" y="790.7" width="5.4" height="17.2"/>
<rect x="1198.8" y="790.4" width="5.4" height="17.2"/>
<rect x="1198.8" y="591.5" width="5.4" height="17.2"/>
<rect x="1202.3" y="578.5" width="5.4" height="17.2"/>
<rect x="1208.3" y="571.8" width="5.4" height="17.2"/>
<rect x="1214.3" y="565.1" width="5.4" height="17.2"/>
<rect x="1223.3" y="557.8" width="5.4" height="17.2"/>
<rect x="1232.3" y="555.9" width="5.4" height="17.2"/>
<rect x="1241.3" y="551.9" width="5.4" height="17.2"/>
<rect x="1250.0" y="550.7" width="5.4" height="17.2"/>
<rect x="1258.6" y="549.4" width="5.4" height="17.2"/>
<rect x="1267.3" y="548.4" width="5.4" height="17.2"/>
<rect x="1277.5" y="548.0" width="5.4" height="17.2"/>
<rect x="1287.8" y="548.4" width="5.4" height="17.2"/>
<rect x="1298.0" y="548.4" width="5.4" height="17.2"/>
<rect x="1308.3" y="547.8" width="5.4" height="17.2"/>
<rect x="1317.0" y="547.0" width="5.4" height="17.2"/>
<rect x="1325.8" y="547.2" width="5.4" height="17.2"/>
<rect x="1334.5" y="547.5" width="5.4" height="17.2"/>
<rect x="1343.3" y="545.7" width="5.4" height="17.2"/>
<rect x="1352.7" y="544.9" width="5.4" height="17.2"/>
<rect x="1362.0" y="544.6" width="5.4" height="17.2"/>
<rect x="1371.4" y="543.8" width="5.4" height="17.2"/>
<rect x="1380.8" y="542.7" width="5.4" height="17.2"/>
<rect x="1390.2" y="541.6" width="5.4" height="17.2"/>
<rect x="1399.5" y="541.1" width="5.4" height="17.2"/>
<rect x="1408.9" y="539.4" width="5.4" height="17.2"/>
<rect x="1418.3" y="539.0" width="5.4" height="17.2"/>
<rect x="1427.8" y="537.3" width="5.4" height="17.2"/>
<rect x="1437.3" y="534.3" width="5.4" height="17.2"/>
<rect x="1446.0" y="535.5" width="5.4" height="17.2"/>
<rect x="1454.6" y="535.5" width="5.4" height="17.2"/>
<rect x="1463.3" y="536.2" width="5.4" height="17.2"/>
<rect x="1467.3" y="528.0" width="5.4" height="17.2"/>
<rect x="1471.3" y="523.2" width="5.4" height="17.2"/>
<rect x="1480.8" y="524.4" width="5.4" height="17.2"/>
<rect x="1490.3" y="526.3" width="5.4" height="17.2"/>
<rect x="1499.3" y="525.7" width="5.4" height="17.2"/>
<rect x="1508.3" y="523.6" width="5.4" height="17.2"/>
<rect x="1517.3" y="523.7" width="5.4" height="17.2"/>
<rect x="1526.3" y="522.3" width="5.4" height="17.2"/>
<rect x="1535.3" y="522.8" width="5.4" height="17.2"/>
<rect x="1544.3" y="523.0" width="5.4" height="17.2"/>
<rect x="1553.3" y="521.2" width="5.4" height="17.2"/>
<rect x="1562.3" y="521.1" width="5.4" height="17.2"/>
<rect x="1575.3" y="516.6" width="5.4" height="17.2"/>
<rect x="1586.8" y="514.8" width="5.4" height="17.2"/>
<rect x="1598.3" y="512.8" width="5.4" height="17.2"/>
<rect x="1607.3" y="512.0" width="5.4" height="17.2"/>
<rect x="1616.3" y="513.2" width="5.4" height="17.2"/>
<rect x="1625.3" y="512.4" width="5.4" height="17.2"/>
<rect x="1634.3" y="510.9" width="5.4" height="17.2"/>
<rect x="1644.5" y="510.6" width="5.4" height="17.2"/>
<rect x="1654.7" y="509.6" width="5.4" height="17.2"/>
<rect x="1664.9" y="508.3" width="5.4" height="17.2"/>
<rect x="1675.1" y="507.2" width="5.4" height="17.2"/>
<rect x="1685.3" y="506.7" width="5.4" height="17.2"/>
</g>
</g>
<path d="M716.3,135.5V169.0M716.3,197.5V231.0M716.3,259.5V293.0M716.3,321.5V355.0M716.3,383.5V417.0M716.3,445.5V479.0M716.3,507.5V541.0M716.3,569.5V603.0M716.3,631.5V665.0M716.3,693.5V727.0M716.3,755.5V789.0M716.3,817.5V851.0M716.3,879.5V913.0M716.3,941.5V975.0M716.3,1003.5V1037.0M716.3,1065.5V1099.0M716.3,1127.5V1161.0M716.3,1189.5V1223.0M716.3,1251.5V1273.0" stroke="#000" stroke-width="5.2" fill="none"/>
<path d="M1208.0,137.0V170.5M1208.0,199.0V232.5M1208.0,261.0V294.5M1208.0,323.0V356.5M1208.0,385.0V418.5M1208.0,447.0V480.5M1208.0,509.0V542.5M1208.0,571.0V604.5M1208.0,633.0V666.5M1208.0,695.0V728.5M1208.0,757.0V790.5M1208.0,819.0V852.5M1208.0,881.0V914.5M1208.0,943.0V976.5M1208.0,1005.0V1038.5M1208.0,1067.0V1100.5M1208.0,1129.0V1162.5M1208.0,1191.0V1224.5M1208.0,1253.0V1273.0" stroke="#000" stroke-width="5.2" fill="none"/>
<rect x="760" y="1083.3" width="985" height="191" fill="#fff"/>
<rect x="230.0" y="55.0" width="1517.7" height="1222.0" fill="none" stroke="#000" stroke-width="6.2"/>
<path d="M484.0,1277.0V1265.0M484.0,55.0V67.0M736.9,1277.0V1253.0M736.9,55.0V79.0M989.9,1277.0V1265.0M989.9,55.0V67.0M1242.8,1277.0V1253.0M1242.8,55.0V79.0M1495.8,1277.0V1265.0M1495.8,55.0V67.0M230.0,1200.6H242.0M1747.7,1200.6H1735.7M230.0,1124.2H254.0M1747.7,1124.2H1723.7M230.0,1047.9H242.0M1747.7,1047.9H1735.7M230.0,971.5H254.0M1747.7,971.5H1723.7M230.0,895.1H242.0M1747.7,895.1H1735.7M230.0,818.8H254.0M1747.7,818.8H1723.7M230.0,742.4H242.0M1747.7,742.4H1735.7M230.0,666.0H254.0M1747.7,666.0H1723.7M230.0,589.6H242.0M1747.7,589.6H1735.7M230.0,513.2H254.0M1747.7,513.2H1723.7M230.0,436.9H242.0M1747.7,436.9H1735.7M230.0,360.5H254.0M1747.7,360.5H1723.7M230.0,284.1H242.0M1747.7,284.1H1735.7M230.0,207.8H254.0M1747.7,207.8H1723.7M230.0,131.4H242.0M1747.7,131.4H1735.7" stroke="#000" stroke-width="5.2" fill="none"/>
<text x="204" y="1297.5" font-family="Liberation Serif, Times New Roman, serif" font-weight="bold" font-size="70" text-anchor="end">0</text>
<text x="204" y="1144.8" font-family="Liberation Serif, Times New Roman, serif" font-weight="bold" font-size="70" text-anchor="end">2</text>
<text x="204" y="992.0" font-family="Liberation Serif, Times New Roman, serif" font-weight="bold" font-size="70" text-anchor="end">4</text>
<text x="204" y="839.2" font-family="Liberation Serif, Times New Roman, serif" font-weight="bold" font-size="70" text-anchor="end">6</text>
<text x="204" y="686.5" font-family="Liberation Serif, Times New Roman, serif" font-weight="bold" font-size="70" text-anchor="end">8</text>
<text x="204" y="533.8" font-family="Liberation Serif, Times New Roman, serif" font-weight="bold" font-size="70" text-anchor="end">10</text>
<text x="204" y="381.0" font-family="Liberation Serif, Times New Roman, serif" font-weight="bold" font-size="70" text-anchor="end">12</text>
<text x="204" y="228.2" font-family="Liberation Serif, Times New Roman, serif" font-weight="bold" font-size="70" text-anchor="end">14</text>
<text x="204" y="75.5" font-family="Liberation Serif, Times New Roman, serif" font-weight="bold" font-size="70" text-anchor="end">16</text>
<text x="230.0" y="1358" font-family="Liberation Serif, Times New Roman, serif" font-weight="bold" font-size="70" text-anchor="middle">0</text>
<text x="735.9" y="1358" font-family="Liberation Serif, Times New Roman, serif" font-weight="bold" font-size="70" text-anchor="middle">200</text>
<text x="1241.8" y="1358" font-family="Liberation Serif, Times New Roman, serif" font-weight="bold" font-size="70" text-anchor="middle">400</text>
<text x="1747.7" y="1358" font-family="Liberation Serif, Times New Roman, serif" font-weight="bold" font-size="70" text-anchor="middle">600</text>
<g transform="matrix(0 -0.9808 0.9707 0 86.93 974.72)"><text font-family="Liberation Serif, serif" font-weight="bold" font-size="80">Contact force/kPa</text></g>
<g transform="matrix(0.9606 0 0 0.9719 871.04 1423.73)"><text font-family="Liberation Serif, serif" font-weight="bold" font-size="80">Time/h</text></g>
<g transform="matrix(0.9746 0 0 1.0192 332.88 382.84)"><text font-family="Liberation Serif, serif" font-weight="bold" font-size="78">d<tspan font-size="52" dy="19">b</tspan><tspan dy="-19" font-size="80">=15m</tspan></text></g>
<g transform="matrix(0.9750 0 0 1.0192 827.18 382.84)"><text font-family="Liberation Serif, serif" font-weight="bold" font-size="78">d<tspan font-size="52" dy="19">b</tspan><tspan dy="-19" font-size="80">=30m</tspan></text></g>
<g transform="matrix(0.9750 0 0 1.0192 1337.17 382.84)"><text font-family="Liberation Serif, serif" font-weight="bold" font-size="78">d<tspan font-size="52" dy="19">b</tspan><tspan dy="-19" font-size="80">=45m</tspan></text></g>
<g transform="matrix(0.8872 0 0 1.0068 931.61 1136.30)"><text font-family="Liberation Serif, serif" font-weight="bold" font-size="68">A1</text></g>
<g transform="matrix(0.8627 0 0 0.9955 1154.14 1136.30)"><text font-family="Liberation Serif, serif" font-weight="bold" font-size="68">B1</text></g>
<g transform="matrix(0.8855 0 0 1.0182 1373.74 1136.80)"><text font-family="Liberation Serif, serif" font-weight="bold" font-size="68">C1</text></g>
<g transform="matrix(0.8436 0 0 0.9955 1612.16 1136.30)"><text font-family="Liberation Serif, serif" font-weight="bold" font-size="68">D1</text></g>
<g transform="matrix(0.9423 0 0 1.0273 931.46 1216.70)"><text font-family="Liberation Serif, serif" font-weight="bold" font-size="68">N1</text></g>
<g transform="matrix(0.9291 0 0 1.0273 1152.87 1216.70)"><text font-family="Liberation Serif, serif" font-weight="bold" font-size="68">N2</text></g>
<g transform="matrix(0.9000 0 0 1.0273 1375.10 1216.70)"><text font-family="Liberation Serif, serif" font-weight="bold" font-size="68">M1</text></g>
<g transform="matrix(0.9330 0 0 1.0273 1609.07 1216.70)"><text font-family="Liberation Serif, serif" font-weight="bold" font-size="68">M2</text></g>
<g fill="#4C4C4C"><line x1="789.4" y1="1112.3" x2="914.5" y2="1112.3" stroke="#4C4C4C" stroke-width="7.5" stroke-linecap="round"/><rect x="845.8" y="1106.1" width="12.4" height="12.4"/></g>
<g fill="#F8404A"><line x1="1010.5" y1="1112.3" x2="1136.3" y2="1112.3" stroke="#F8404A" stroke-width="7.5" stroke-linecap="round"/><circle cx="1073.4" cy="1112.3" r="6.6"/></g>
<g fill="#0568CC"><line x1="1230.5" y1="1112.6" x2="1357.5" y2="1112.6" stroke="#0568CC" stroke-width="7.5" stroke-linecap="round"/><polygon points="1294.0,1104.7 1301.5,1119.7 1286.5,1119.7"/></g>
<g fill="#00A469"><line x1="1467.4" y1="1112.8" x2="1592.3" y2="1112.8" stroke="#00A469" stroke-width="7.5" stroke-linecap="round"/><polygon points="1529.8,1104.4 1532.5,1111.3 1537.1,1117.0 1529.8,1115.9 1522.6,1117.0 1527.2,1111.3"/></g>
<g fill="#BE7ADC"><line x1="789.4" y1="1192" x2="914.5" y2="1192" stroke="#BE7ADC" stroke-width="7.5" stroke-linecap="round"/><polygon points="852.0,1183.6 858.1,1192.0 852.0,1200.4 845.8,1192.0"/></g>
<g fill="#D09800"><line x1="1010.5" y1="1192" x2="1136.3" y2="1192" stroke="#D09800" stroke-width="7.5" stroke-linecap="round"/><polygon points="1065.5,1192.0 1080.5,1184.5 1080.5,1199.5"/></g>
<g fill="#00BFC3"><line x1="1230.5" y1="1192" x2="1357.5" y2="1192" stroke="#00BFC3" stroke-width="7.5" stroke-linecap="round"/><polygon points="1301.9,1192.0 1286.9,1184.5 1286.9,1199.5"/></g>
<g fill="#8A4C4E"><line x1="1467.4" y1="1192.2" x2="1592.3" y2="1192.2" stroke="#8A4C4E" stroke-width="7.5" stroke-linecap="round"/><polygon points="1529.8,1199.3 1523.7,1195.7 1523.7,1188.7 1529.8,1185.1 1536.0,1188.7 1536.0,1195.7"/></g>
</svg></body></html>
